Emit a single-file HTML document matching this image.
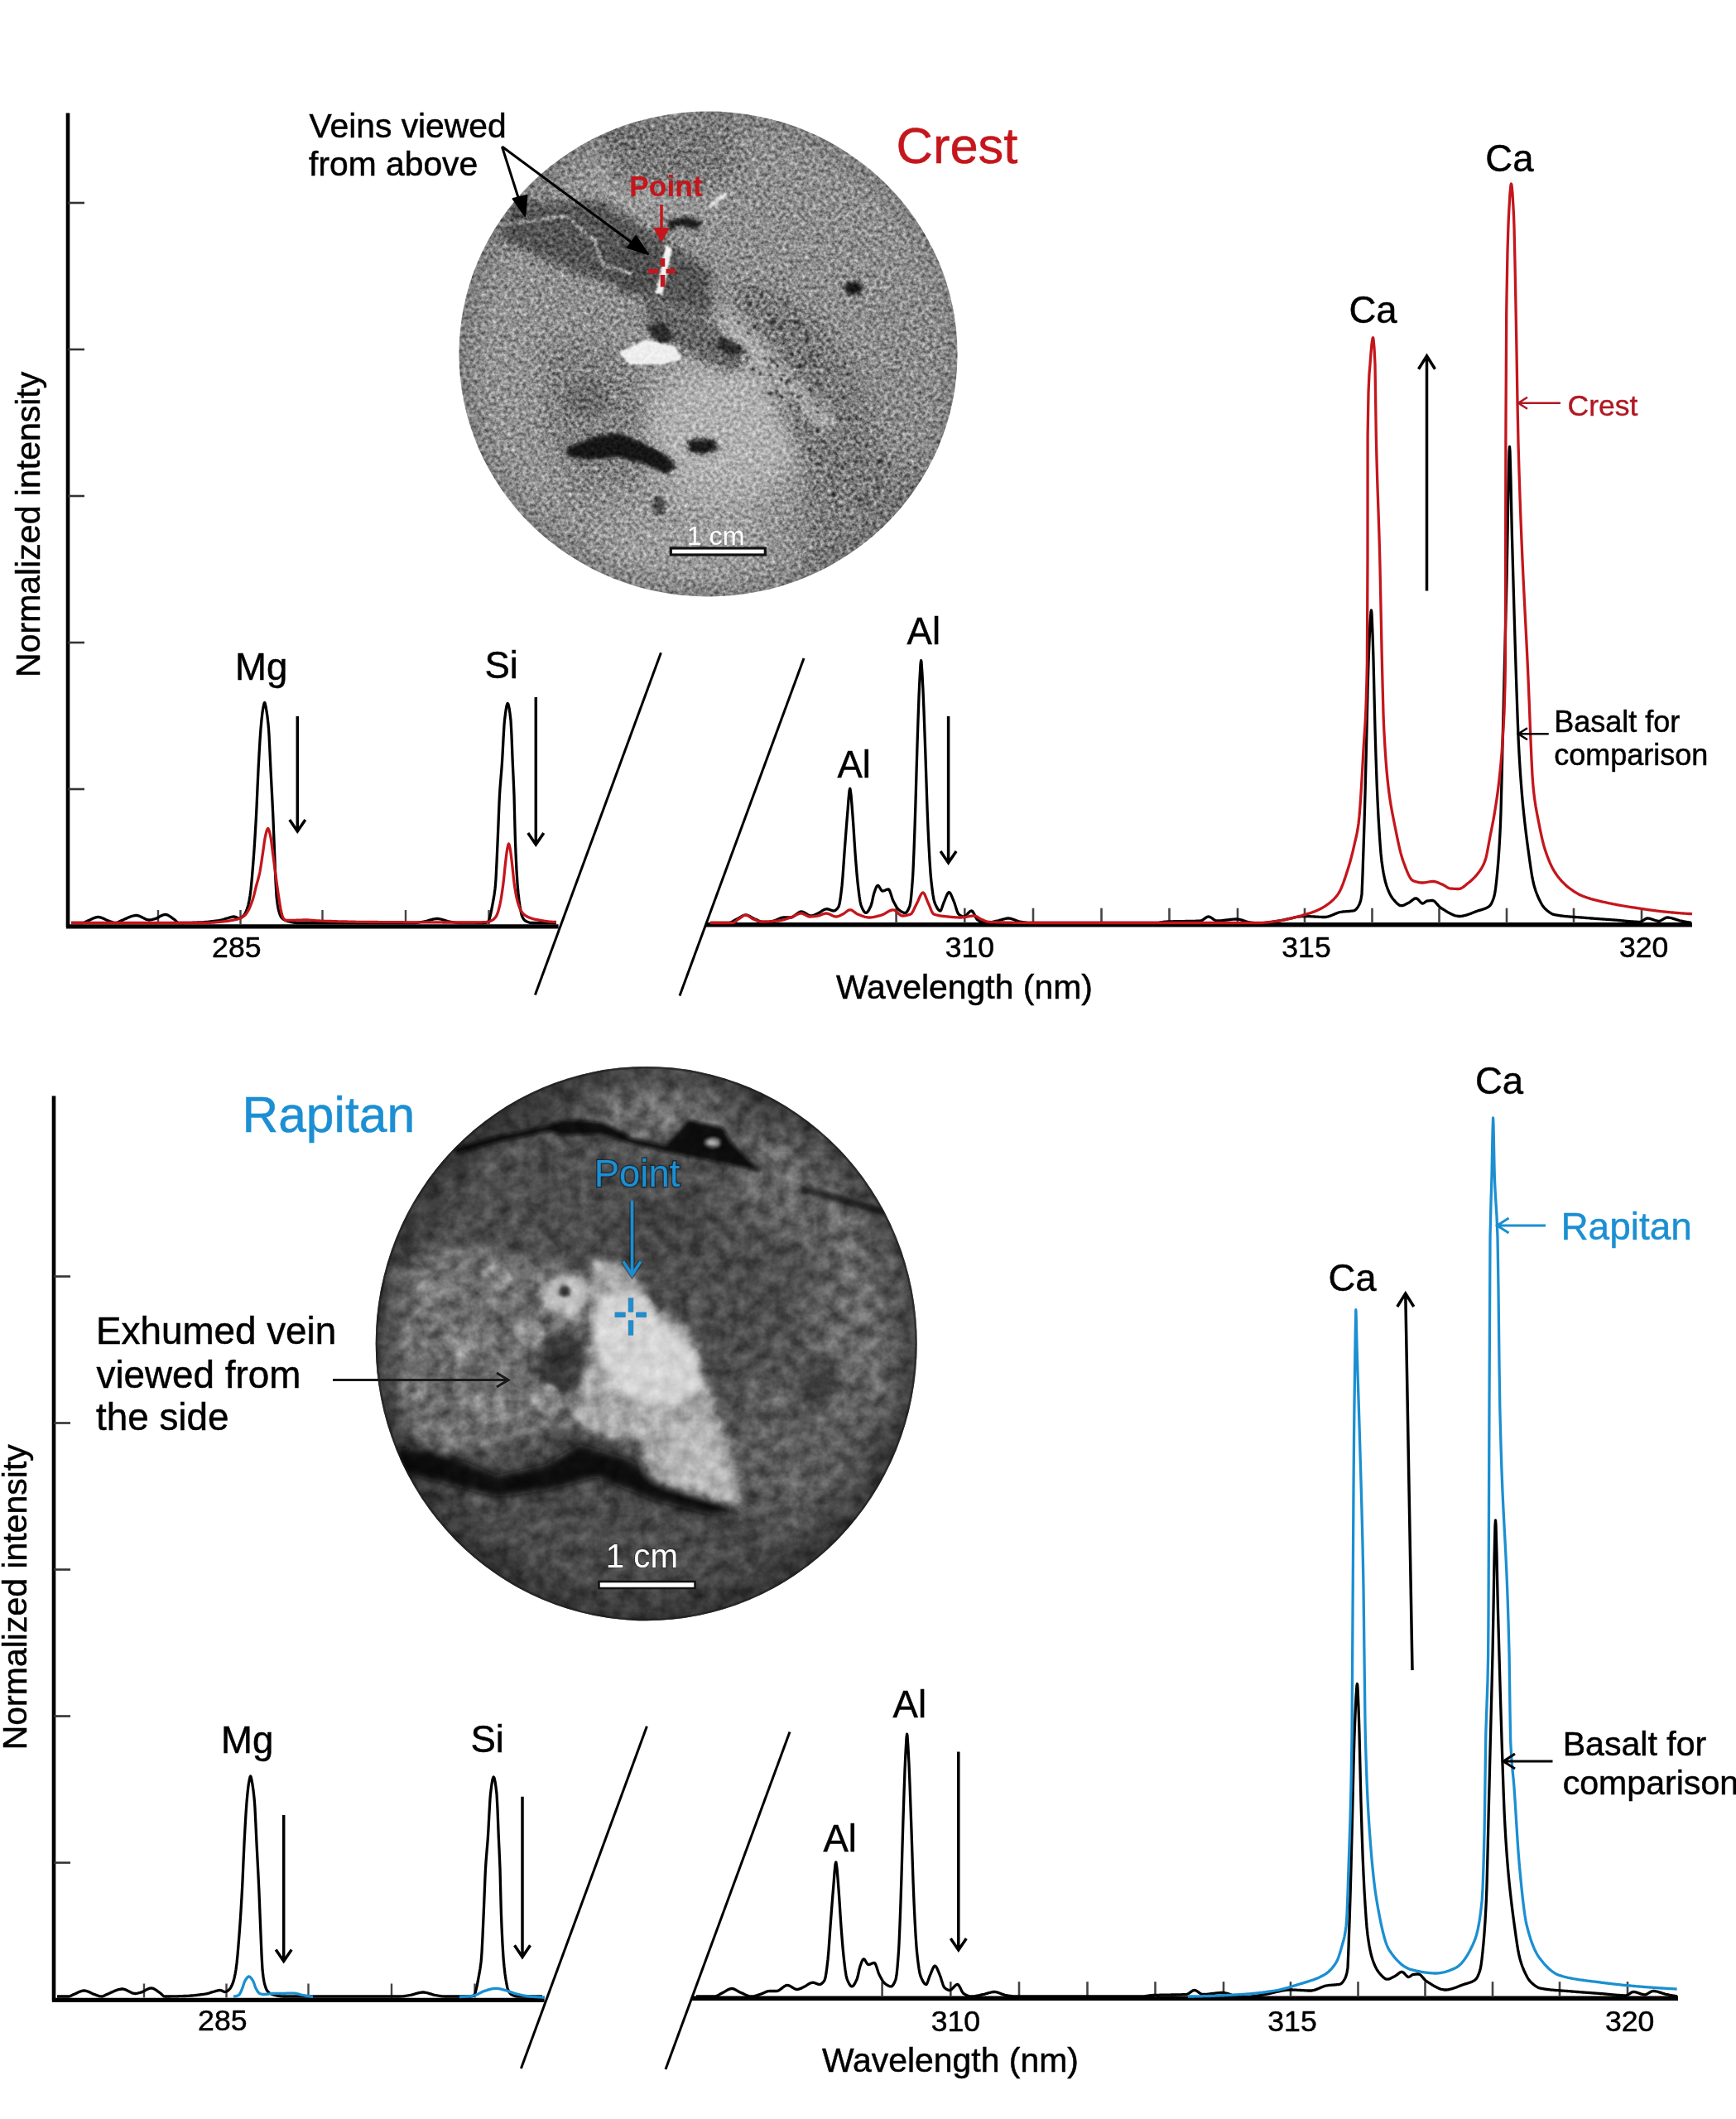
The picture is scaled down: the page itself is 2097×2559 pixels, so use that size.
<!DOCTYPE html>
<html><head><meta charset="utf-8"><style>
html,body{margin:0;padding:0;background:#fff;}
body{width:2097px;height:2559px;position:relative;overflow:hidden;}
</style></head><body>
<svg xmlns="http://www.w3.org/2000/svg" width="2097" height="2559" viewBox="0 0 2097 2559" style="position:absolute;left:0;top:0;will-change:transform">
<defs>
<clipPath id="clip1"><ellipse cx="855.5" cy="427.5" rx="301" ry="293"/></clipPath>
<clipPath id="clip2"><ellipse cx="780.7" cy="1622.6" rx="327" ry="334.6"/></clipPath>
<filter id="blur20" x="-50%" y="-50%" width="200%" height="200%"><feGaussianBlur stdDeviation="20"/></filter>
<filter id="blur10" x="-50%" y="-50%" width="200%" height="200%"><feGaussianBlur stdDeviation="10"/></filter>
<filter id="blur5" x="-50%" y="-50%" width="200%" height="200%"><feGaussianBlur stdDeviation="5"/></filter>
<filter id="blur2" x="-50%" y="-50%" width="200%" height="200%"><feGaussianBlur stdDeviation="2"/></filter>
<filter id="blur1" x="-50%" y="-50%" width="200%" height="200%"><feGaussianBlur stdDeviation="1"/></filter>
<filter id="tex1" x="0" y="0" width="100%" height="100%" color-interpolation-filters="sRGB">
  <feTurbulence type="fractalNoise" baseFrequency="0.22" numOctaves="3" seed="7" result="n"/>
  <feColorMatrix in="n" type="matrix" values="0.85 0 0 0 0.075  0.85 0 0 0 0.075  0.85 0 0 0 0.075  0 0 0 0 1" result="g"/>
  <feBlend in="g" in2="SourceGraphic" mode="overlay" result="b"/>
  <feComposite in="b" in2="SourceAlpha" operator="in"/>
</filter>
<filter id="tex2" x="0" y="0" width="100%" height="100%" color-interpolation-filters="sRGB">
  <feTurbulence type="fractalNoise" baseFrequency="0.06" numOctaves="4" seed="11" result="n"/>
  <feColorMatrix in="n" type="matrix" values="0.55 0 0 0 0.225  0.55 0 0 0 0.225  0.55 0 0 0 0.225  0 0 0 0 1" result="g"/>
  <feBlend in="g" in2="SourceGraphic" mode="overlay" result="b"/>
  <feComposite in="b" in2="SourceAlpha" operator="in"/>
</filter>
<radialGradient id="vig1" cx="0.5" cy="0.5" r="0.5">
  <stop offset="0.85" stop-color="#000" stop-opacity="0"/>
  <stop offset="1" stop-color="#000" stop-opacity="0.18"/>
</radialGradient>
<radialGradient id="vig2" cx="0.5" cy="0.5" r="0.5">
  <stop offset="0.82" stop-color="#000" stop-opacity="0"/>
  <stop offset="1" stop-color="#000" stop-opacity="0.4"/>
</radialGradient>
</defs>
<g font-family='"Liberation Sans", sans-serif'>
<g clip-path="url(#clip1)"><g filter="url(#tex1)">
<rect x="540" y="120" width="640" height="620" fill="#8e8e8e"/>
<g filter="url(#blur20)">
  <ellipse cx="620" cy="500" rx="60" ry="170" fill="#929292"/>
  <ellipse cx="875" cy="520" rx="100" ry="90" fill="#b0b0b0"/>
  <ellipse cx="830" cy="650" rx="110" ry="50" fill="#9c9c9c"/>
  <ellipse cx="1000" cy="250" rx="110" ry="80" fill="#8e8e8e"/>
  <ellipse cx="790" cy="200" rx="80" ry="60" fill="#9e9e9e"/>
  <ellipse cx="1100" cy="460" rx="50" ry="120" fill="#8a8a8a"/>
</g>
<g filter="url(#blur10)">
  <path d="M655 411 L740 420 L778 480 L770 587 L700 590 L655 520 Z" fill="#828282"/>
  <path d="M884 341 L936 348 L989 383 L1035 446 L1060 516 L1077 604 L1042 629 L989 587 L954 516 L919 446 L884 393 Z" fill="#7c7c7c"/>
  <path d="M972 552 L1112 560 L1112 692 L972 692 Z" fill="#7e7e7e"/>
  <path d="M866 372 L885 378 L940 440 L1010 512 L1000 525 L930 455 L870 392 Z" fill="#bababa"/>
  <path d="M720 150 L880 150 L900 200 L860 230 L740 220 Z" fill="#7a7a7a"/>
</g>
<g filter="url(#blur5)">
  <path d="M620 246 L726 242 L778 274 L859 327 L859 383 L761 351 L690 327 L603 288 Z" fill="#575757"/>
  <ellipse cx="765" cy="325" rx="28" ry="32" fill="#505050"/>
  <path d="M778 358 L860 390 L901 439 L880 450 L820 420 L775 380 Z" fill="#666"/>
  <ellipse cx="708" cy="481" rx="28" ry="24" fill="#6e6e6e"/>
</g>
<g filter="url(#blur2)">
  <path d="M683 541 L719 527 L747 523 L775 534 L803 548 L817 562 L806 573 L782 562 L747 552 L712 555 L687 552 Z" fill="#181818"/>
  <path d="M831 531 L862 530 L868 543 L850 549 L832 546 Z" fill="#1e1e1e"/>
  <ellipse cx="796" cy="611" rx="8" ry="12" fill="#4e4e4e"/>
  <ellipse cx="1031" cy="348" rx="11" ry="8" fill="#151515"/>
  <path d="M806 266 L830 262 L848 268 L842 278 L820 272 L808 280 Z" fill="#1c1c1c"/>
  <path d="M780 395 L800 388 L815 408 L798 418 Z" fill="#2a2a2a"/>
  <path d="M870 405 L900 420 L890 432 L865 420 Z" fill="#2e2e2e"/>
</g>
<g filter="url(#blur1)" opacity="0.85"><circle cx="1015.1" cy="504.1" r="2.3" fill="rgb(67,67,67)"/><circle cx="1006.2" cy="521.6" r="2.4" fill="rgb(69,69,69)"/><circle cx="1060.5" cy="588.7" r="2.5" fill="rgb(27,27,27)"/><circle cx="983.1" cy="435.3" r="1.7" fill="rgb(26,26,26)"/><circle cx="960.7" cy="526.9" r="1.5" fill="rgb(37,37,37)"/><circle cx="952.6" cy="387.9" r="1.7" fill="rgb(68,68,68)"/><circle cx="1004.4" cy="576.6" r="2.1" fill="rgb(28,28,28)"/><circle cx="951.4" cy="370.4" r="1.2" fill="rgb(69,69,69)"/><circle cx="965.4" cy="390.7" r="2.4" fill="rgb(38,38,38)"/><circle cx="930.9" cy="452.9" r="2.4" fill="rgb(60,60,60)"/><circle cx="961.0" cy="390.0" r="2.2" fill="rgb(44,44,44)"/><circle cx="938.9" cy="441.4" r="1.4" fill="rgb(29,29,29)"/><circle cx="931.4" cy="434.0" r="2.3" fill="rgb(57,57,57)"/><circle cx="911.9" cy="352.3" r="1.7" fill="rgb(39,39,39)"/><circle cx="944.4" cy="458.1" r="2.2" fill="rgb(31,31,31)"/><circle cx="990.1" cy="470.5" r="1.3" fill="rgb(21,21,21)"/><circle cx="1042.8" cy="604.1" r="1.8" fill="rgb(55,55,55)"/><circle cx="1017.5" cy="563.4" r="2.0" fill="rgb(20,20,20)"/><circle cx="985.7" cy="463.2" r="2.1" fill="rgb(32,32,32)"/><circle cx="902.8" cy="401.9" r="2.3" fill="rgb(49,49,49)"/><circle cx="945.8" cy="453.1" r="1.9" fill="rgb(69,69,69)"/><circle cx="979.8" cy="471.4" r="2.3" fill="rgb(43,43,43)"/><circle cx="1007.9" cy="597.2" r="2.5" fill="rgb(25,25,25)"/><circle cx="934.2" cy="411.5" r="1.7" fill="rgb(29,29,29)"/><circle cx="981.5" cy="424.6" r="2.0" fill="rgb(39,39,39)"/><circle cx="997.3" cy="540.8" r="2.3" fill="rgb(60,60,60)"/><circle cx="935.9" cy="388.1" r="2.6" fill="rgb(30,30,30)"/><circle cx="988.4" cy="560.1" r="2.0" fill="rgb(45,45,45)"/><circle cx="920.5" cy="356.4" r="1.7" fill="rgb(36,36,36)"/><circle cx="967.9" cy="477.7" r="1.3" fill="rgb(60,60,60)"/><circle cx="904.8" cy="368.5" r="2.4" fill="rgb(28,28,28)"/><circle cx="1061.1" cy="602.3" r="1.4" fill="rgb(70,70,70)"/><circle cx="945.0" cy="479.4" r="1.7" fill="rgb(23,23,23)"/><circle cx="1022.0" cy="581.0" r="1.8" fill="rgb(59,59,59)"/><circle cx="1066.8" cy="550.2" r="1.8" fill="rgb(51,51,51)"/><circle cx="998.5" cy="541.0" r="1.6" fill="rgb(50,50,50)"/><circle cx="942.0" cy="477.9" r="1.7" fill="rgb(54,54,54)"/><circle cx="1061.7" cy="593.9" r="1.9" fill="rgb(41,41,41)"/><circle cx="928.3" cy="405.4" r="1.9" fill="rgb(55,55,55)"/><circle cx="1029.9" cy="583.5" r="2.3" fill="rgb(69,69,69)"/><circle cx="962.5" cy="444.7" r="1.2" fill="rgb(39,39,39)"/><circle cx="971.2" cy="441.0" r="1.6" fill="rgb(51,51,51)"/><circle cx="973.2" cy="403.1" r="2.2" fill="rgb(41,41,41)"/><circle cx="1009.1" cy="518.6" r="1.2" fill="rgb(55,55,55)"/><circle cx="1012.7" cy="561.8" r="1.6" fill="rgb(38,38,38)"/><circle cx="1040.1" cy="557.1" r="2.3" fill="rgb(42,42,42)"/><circle cx="933.9" cy="435.9" r="2.5" fill="rgb(46,46,46)"/><circle cx="978.0" cy="431.1" r="2.4" fill="rgb(64,64,64)"/><circle cx="963.3" cy="479.0" r="1.7" fill="rgb(29,29,29)"/><circle cx="963.3" cy="508.4" r="2.4" fill="rgb(50,50,50)"/><circle cx="918.3" cy="450.9" r="2.1" fill="rgb(46,46,46)"/><circle cx="945.4" cy="389.5" r="2.0" fill="rgb(62,62,62)"/><circle cx="1037.2" cy="603.6" r="2.0" fill="rgb(60,60,60)"/><circle cx="975.1" cy="403.9" r="1.5" fill="rgb(57,57,57)"/><circle cx="980.2" cy="463.1" r="1.5" fill="rgb(63,63,63)"/><circle cx="942.9" cy="394.6" r="2.6" fill="rgb(34,34,34)"/><circle cx="951.6" cy="382.6" r="1.4" fill="rgb(31,31,31)"/><circle cx="980.3" cy="478.3" r="1.8" fill="rgb(42,42,42)"/><circle cx="968.0" cy="449.7" r="2.0" fill="rgb(35,35,35)"/><circle cx="1006.8" cy="545.6" r="1.7" fill="rgb(37,37,37)"/><circle cx="1060.4" cy="556.4" r="2.2" fill="rgb(55,55,55)"/><circle cx="930.1" cy="475.7" r="2.1" fill="rgb(26,26,26)"/><circle cx="948.1" cy="433.2" r="2.5" fill="rgb(38,38,38)"/><circle cx="1073.7" cy="584.3" r="1.8" fill="rgb(56,56,56)"/><circle cx="994.4" cy="526.8" r="1.4" fill="rgb(58,58,58)"/><circle cx="959.8" cy="456.8" r="1.5" fill="rgb(28,28,28)"/><circle cx="987.8" cy="519.3" r="2.5" fill="rgb(20,20,20)"/><circle cx="950.0" cy="463.8" r="2.5" fill="rgb(54,54,54)"/><circle cx="930.8" cy="389.0" r="2.4" fill="rgb(44,44,44)"/><circle cx="999.2" cy="444.4" r="1.9" fill="rgb(50,50,50)"/><circle cx="1047.9" cy="608.9" r="2.5" fill="rgb(30,30,30)"/><circle cx="980.0" cy="520.5" r="2.6" fill="rgb(51,51,51)"/><circle cx="909.4" cy="445.8" r="2.5" fill="rgb(39,39,39)"/><circle cx="965.0" cy="493.2" r="1.9" fill="rgb(27,27,27)"/><circle cx="1035.1" cy="502.9" r="1.5" fill="rgb(22,22,22)"/><circle cx="1046.0" cy="539.7" r="1.2" fill="rgb(54,54,54)"/><circle cx="973.2" cy="512.4" r="1.9" fill="rgb(22,22,22)"/><circle cx="924.4" cy="432.6" r="1.4" fill="rgb(38,38,38)"/><circle cx="953.8" cy="428.1" r="1.9" fill="rgb(61,61,61)"/><circle cx="1062.5" cy="557.6" r="2.5" fill="rgb(21,21,21)"/><circle cx="1008.9" cy="559.7" r="1.9" fill="rgb(41,41,41)"/><circle cx="1013.0" cy="502.3" r="1.2" fill="rgb(42,42,42)"/><circle cx="973.4" cy="438.5" r="2.0" fill="rgb(22,22,22)"/><circle cx="903.9" cy="358.2" r="2.2" fill="rgb(26,26,26)"/><circle cx="1045.0" cy="579.8" r="1.2" fill="rgb(69,69,69)"/><circle cx="1035.3" cy="557.3" r="2.2" fill="rgb(60,60,60)"/><circle cx="1026.8" cy="505.0" r="2.4" fill="rgb(50,50,50)"/><circle cx="985.2" cy="441.1" r="1.5" fill="rgb(38,38,38)"/><circle cx="990.9" cy="463.9" r="1.6" fill="rgb(20,20,20)"/><circle cx="1006.8" cy="536.9" r="1.6" fill="rgb(69,69,69)"/><circle cx="963.5" cy="487.2" r="1.4" fill="rgb(64,64,64)"/><circle cx="987.7" cy="497.4" r="1.7" fill="rgb(29,29,29)"/><circle cx="970.7" cy="464.4" r="1.3" fill="rgb(66,66,66)"/><circle cx="957.3" cy="402.2" r="2.3" fill="rgb(62,62,62)"/><circle cx="1040.1" cy="603.6" r="1.8" fill="rgb(24,24,24)"/><circle cx="1072.6" cy="599.9" r="1.3" fill="rgb(27,27,27)"/><circle cx="944.4" cy="407.8" r="2.5" fill="rgb(65,65,65)"/><circle cx="1074.8" cy="560.0" r="2.2" fill="rgb(48,48,48)"/><circle cx="931.0" cy="392.1" r="1.8" fill="rgb(30,30,30)"/><circle cx="892.4" cy="390.6" r="2.0" fill="rgb(62,62,62)"/><circle cx="933.3" cy="475.3" r="1.3" fill="rgb(56,56,56)"/><circle cx="912.4" cy="394.5" r="2.1" fill="rgb(20,20,20)"/><circle cx="957.2" cy="476.8" r="2.0" fill="rgb(51,51,51)"/><circle cx="966.5" cy="440.9" r="2.5" fill="rgb(28,28,28)"/><circle cx="989.2" cy="551.1" r="2.1" fill="rgb(52,52,52)"/><circle cx="974.7" cy="411.3" r="2.0" fill="rgb(34,34,34)"/><circle cx="945.4" cy="423.3" r="1.6" fill="rgb(68,68,68)"/><circle cx="975.8" cy="408.1" r="2.3" fill="rgb(43,43,43)"/><circle cx="965.4" cy="478.7" r="1.4" fill="rgb(21,21,21)"/><circle cx="978.3" cy="543.7" r="2.1" fill="rgb(25,25,25)"/><circle cx="1038.6" cy="575.5" r="1.8" fill="rgb(44,44,44)"/><circle cx="1039.1" cy="580.2" r="1.7" fill="rgb(70,70,70)"/><circle cx="987.6" cy="490.7" r="1.7" fill="rgb(29,29,29)"/><circle cx="1046.6" cy="599.5" r="2.3" fill="rgb(67,67,67)"/><circle cx="948.8" cy="366.3" r="2.1" fill="rgb(33,33,33)"/><circle cx="930.3" cy="389.0" r="1.7" fill="rgb(35,35,35)"/><circle cx="973.9" cy="411.8" r="2.2" fill="rgb(70,70,70)"/><circle cx="938.5" cy="473.9" r="2.4" fill="rgb(61,61,61)"/><circle cx="955.8" cy="427.7" r="2.5" fill="rgb(43,43,43)"/><circle cx="988.7" cy="484.9" r="2.0" fill="rgb(67,67,67)"/><circle cx="900.9" cy="426.1" r="1.3" fill="rgb(31,31,31)"/><circle cx="902.9" cy="432.7" r="2.4" fill="rgb(50,50,50)"/><circle cx="996.1" cy="532.6" r="1.8" fill="rgb(39,39,39)"/><circle cx="1050.0" cy="576.7" r="1.8" fill="rgb(49,49,49)"/><circle cx="954.2" cy="490.3" r="2.1" fill="rgb(24,24,24)"/><circle cx="952.6" cy="459.1" r="2.4" fill="rgb(29,29,29)"/><circle cx="963.4" cy="516.7" r="2.3" fill="rgb(68,68,68)"/><circle cx="929.0" cy="444.5" r="1.9" fill="rgb(22,22,22)"/><circle cx="971.2" cy="434.0" r="1.6" fill="rgb(23,23,23)"/><circle cx="1021.2" cy="523.6" r="1.9" fill="rgb(29,29,29)"/><circle cx="929.7" cy="381.4" r="1.6" fill="rgb(63,63,63)"/><circle cx="970.0" cy="396.3" r="1.2" fill="rgb(65,65,65)"/><circle cx="886.7" cy="379.2" r="1.3" fill="rgb(45,45,45)"/><circle cx="1059.1" cy="578.0" r="2.2" fill="rgb(31,31,31)"/><circle cx="961.0" cy="487.4" r="2.2" fill="rgb(65,65,65)"/><circle cx="992.5" cy="463.8" r="1.4" fill="rgb(33,33,33)"/><circle cx="1059.8" cy="588.1" r="1.8" fill="rgb(37,37,37)"/><circle cx="872.9" cy="382.6" r="2.3" fill="rgb(46,46,46)"/><circle cx="897.3" cy="424.8" r="2.4" fill="rgb(53,53,53)"/><circle cx="1018.6" cy="480.2" r="2.2" fill="rgb(35,35,35)"/></g>
<g filter="url(#blur1)">
  <path d="M604 270 L684 259 L720 289 L729 317 L764 329 L762 333 L726 320 L716 292 L684 263 L604 274 Z" fill="#a8a8a8" opacity="0.8"/>
  <path d="M804 296 L812 300 L806 330 L800 356 L792 354 L798 328 Z" fill="#f4f4f4"/>
  <path d="M748 426 L780 410 L815 418 L824 434 L800 440 L760 440 Z" fill="#eeeeee"/>
  <path d="M855 248 L876 232 L879 236 L858 252 Z" fill="#e0e0e0"/>
</g>
</g>
<rect x="540" y="120" width="640" height="620" fill="url(#vig1)"/>
</g>
<line x1="82" y1="136.5" x2="82" y2="1120" stroke="#000" stroke-width="4.6" />
<line x1="82" y1="245" x2="102" y2="245" stroke="#333" stroke-width="2.6" />
<line x1="82" y1="422" x2="102" y2="422" stroke="#333" stroke-width="2.6" />
<line x1="82" y1="599" x2="102" y2="599" stroke="#333" stroke-width="2.6" />
<line x1="82" y1="776" x2="102" y2="776" stroke="#333" stroke-width="2.6" />
<line x1="82" y1="953" x2="102" y2="953" stroke="#333" stroke-width="2.6" />
<line x1="80" y1="1118.8" x2="674.6" y2="1118.8" stroke="#000" stroke-width="5.3" />
<line x1="191" y1="1099" x2="191" y2="1116" stroke="#444" stroke-width="2.4" />
<line x1="290.5" y1="1099" x2="290.5" y2="1116" stroke="#444" stroke-width="2.4" />
<line x1="389.5" y1="1099" x2="389.5" y2="1116" stroke="#444" stroke-width="2.4" />
<line x1="490" y1="1099" x2="490" y2="1116" stroke="#444" stroke-width="2.4" />
<line x1="590.5" y1="1099" x2="590.5" y2="1116" stroke="#444" stroke-width="2.4" />
<line x1="853" y1="1116.8" x2="2044" y2="1116.8" stroke="#000" stroke-width="5.5" />
<line x1="1082.6" y1="1096.7" x2="1082.6" y2="1115" stroke="#444" stroke-width="2.6" />
<line x1="1165.3" y1="1096.7" x2="1165.3" y2="1115" stroke="#444" stroke-width="2.6" />
<line x1="1248" y1="1096.7" x2="1248" y2="1115" stroke="#444" stroke-width="2.6" />
<line x1="1330.5" y1="1096.7" x2="1330.5" y2="1115" stroke="#444" stroke-width="2.6" />
<line x1="1412.5" y1="1096.7" x2="1412.5" y2="1115" stroke="#444" stroke-width="2.6" />
<line x1="1495" y1="1096.7" x2="1495" y2="1115" stroke="#444" stroke-width="2.6" />
<line x1="1576" y1="1096.7" x2="1576" y2="1115" stroke="#444" stroke-width="2.6" />
<line x1="1657.5" y1="1096.7" x2="1657.5" y2="1115" stroke="#444" stroke-width="2.6" />
<line x1="1738.5" y1="1096.7" x2="1738.5" y2="1115" stroke="#444" stroke-width="2.6" />
<line x1="1820" y1="1096.7" x2="1820" y2="1115" stroke="#444" stroke-width="2.6" />
<line x1="1901" y1="1096.7" x2="1901" y2="1115" stroke="#444" stroke-width="2.6" />
<line x1="1983" y1="1096.7" x2="1983" y2="1115" stroke="#444" stroke-width="2.6" />
<line x1="798.4" y1="788.3" x2="646.4" y2="1201.6" stroke="#000" stroke-width="3" />
<line x1="971" y1="795" x2="821" y2="1202.4" stroke="#000" stroke-width="3" />
<text x="256.1" y="1155.8" font-size="35.6" text-anchor="start" fill="#000" font-weight="normal" stroke="#000" stroke-width="0.5">285</text>
<text x="1141.8" y="1156.2" font-size="35.6" text-anchor="start" fill="#000" font-weight="normal" stroke="#000" stroke-width="0.5">310</text>
<text x="1578" y="1156" font-size="35.6" text-anchor="middle" fill="#000" font-weight="normal" stroke="#000" stroke-width="0.5">315</text>
<text x="1985.6" y="1156" font-size="35.6" text-anchor="middle" fill="#000" font-weight="normal" stroke="#000" stroke-width="0.5">320</text>
<text x="1010" y="1205.7" font-size="40.9" text-anchor="start" fill="#000" font-weight="normal" stroke="#000" stroke-width="0.5">Wavelength (nm)</text>
<text x="284.1" y="820.7" font-size="45.5" text-anchor="start" fill="#000" font-weight="normal" stroke="#000" stroke-width="0.5">Mg</text>
<text x="585.4" y="819" font-size="45.5" text-anchor="start" fill="#000" font-weight="normal" stroke="#000" stroke-width="0.5">Si</text>
<text x="1011.4" y="939.3" font-size="45.5" text-anchor="start" fill="#000" font-weight="normal" stroke="#000" stroke-width="0.5">Al</text>
<text x="1095.6" y="777.7" font-size="45.5" text-anchor="start" fill="#000" font-weight="normal" stroke="#000" stroke-width="0.5">Al</text>
<text x="0" y="0" font-size="41" text-anchor="start" fill="#000" font-weight="normal" transform="translate(48.4 817.9) rotate(-90)" stroke="#000" stroke-width="0.5">Normalized intensity</text>
<path d="M86 1114.5 L87 1114.5 L88 1114.5 L89 1114.5 L90 1114.5 L91 1114.5 L92 1114.5 L93 1114.5 L94 1114.5 L95 1114.5 L96 1114.5 L97 1114.5 L98 1114.5 L99 1114.5 L100 1114.5 L101 1114.4 L102 1114 L103 1113.5 L104 1113 L105 1112.5 L106 1112 L107 1111.6 L108 1111.2 L109 1110.7 L110 1110.2 L111 1109.7 L112 1109.3 L113 1108.9 L114 1108.5 L115 1108.1 L116 1107.8 L117 1107.6 L118 1107.5 L118.7 1107.5 L119 1107.5 L120 1107.6 L121 1107.8 L122 1108.1 L123 1108.5 L124 1108.9 L125 1109.3 L126 1109.8 L127 1110.3 L128 1110.8 L129 1111.2 L130 1111.7 L131 1112 L132 1112.3 L133 1112.7 L134 1113.1 L135 1113.4 L136 1113.8 L137 1114.1 L138 1114.3 L139 1114.4 L140 1114.5 L141 1114.4 L142 1114 L143 1113.5 L144 1113 L145 1112.5 L146 1112 L147 1111.6 L148 1111.2 L149 1110.7 L150 1110.3 L151 1109.8 L152 1109.4 L153 1108.9 L154 1108.5 L155 1108 L156 1107.6 L157 1107.2 L158 1106.8 L159 1106.5 L160 1106.2 L161 1106 L162 1105.8 L163 1105.6 L164 1105.5 L164.8 1105.5 L165 1105.5 L166 1105.6 L167 1105.8 L168 1106.1 L169 1106.5 L170 1107 L171 1107.5 L172 1108 L173 1108.6 L174 1109.1 L175 1109.6 L176 1110.1 L177 1110.4 L178 1110.7 L179 1110.9 L180 1111 L181 1111 L182 1110.8 L183 1110.7 L184 1110.5 L185 1110.2 L186 1110 L187 1109.7 L188 1109.4 L189 1108.9 L190 1108.4 L191 1107.9 L192 1107.4 L193 1106.8 L194 1106.3 L195 1105.8 L196 1105.4 L197 1105 L198 1104.7 L199 1104.5 L199.8 1104.5 L200 1104.5 L201 1104.6 L202 1104.9 L203 1105.3 L204 1105.9 L205 1106.5 L206 1107.2 L207 1107.9 L208 1108.6 L209 1109.3 L210 1110 L211 1110.8 L212 1111.7 L213 1112.7 L214 1113.6 L215 1114.3 L216 1114.5 L217 1114.5 L218 1114.5 L219 1114.5 L220 1114.5 L221 1114.5 L222 1114.5 L223 1114.4 L224 1114.4 L225 1114.4 L226 1114.4 L227 1114.4 L228 1114.4 L229 1114.3 L230 1114.3 L231 1114.3 L232 1114.3 L233 1114.2 L234 1114.2 L235 1114.2 L236 1114.1 L237 1114.1 L238 1114.1 L239 1114 L240 1114 L241 1114 L242 1113.9 L243 1113.9 L244 1113.8 L245 1113.8 L246 1113.7 L247 1113.6 L248 1113.5 L249 1113.5 L250 1113.4 L251 1113.3 L252 1113.2 L253 1113.1 L254 1113 L255 1112.9 L256 1112.7 L257 1112.6 L258 1112.5 L259 1112.4 L260 1112.2 L261 1112.1 L262 1112 L263 1111.8 L264 1111.7 L265 1111.5 L266 1111.3 L267 1111.1 L268 1110.8 L269 1110.6 L270 1110.3 L271 1110 L272 1109.6 L273 1109.3 L274 1109 L275 1108.8 L276 1108.5 L277 1108.2 L278 1107.9 L279 1107.7 L280 1107.4 L281 1107.2 L282 1107 L282.8 1107 L283 1107 L284 1107.2 L285 1107.6 L286 1108 L287 1108.5 L288 1108.9 L289 1109 L290 1108.8 L291 1108.4 L292 1107.7 L293 1106.9 L294 1106 L295 1104.9 L296 1103.3 L297 1101.3 L298 1099 L299 1096.1 L300 1092.3 L301 1087.6 L302 1082 L303 1074.4 L304 1064.3 L305 1052.5 L306 1040 L307 1026.4 L308 1011.1 L309 994.1 L309.5 985 L310 974.9 L311 951.8 L312 930 L313 911.2 L314 894 L315 880 L316 869 L317 860.2 L317.5 857 L318 854.2 L319 849.5 L319.6 848.5 L320 849 L321 853.1 L321.7 857 L322 858.7 L323 865.5 L324 874.5 L324.5 880 L325 887.4 L326 908.1 L327 930 L328 949.2 L329 968.3 L329.8 985 L330 989.6 L331 1014.9 L332 1040 L333 1064.1 L334 1082 L335 1090.8 L336 1096.8 L336.5 1099 L337 1100.8 L338 1104 L339 1106.4 L340 1108 L341 1109 L342 1109.9 L343 1110.6 L344 1111.2 L345 1111.6 L346 1112 L347 1112.3 L348 1112.6 L349 1112.9 L350 1113.1 L351 1113.4 L352 1113.6 L353 1113.8 L354 1114 L355 1114.1 L356 1114.3 L357 1114.4 L358 1114.4 L359 1114.5 L360 1114.5 L361 1114.5 L362 1114.5 L363 1114.5 L364 1114.5 L365 1114.5 L366 1114.5 L367 1114.5 L368 1114.5 L369 1114.5 L370 1114.5 L371 1114.5 L372 1114.5 L373 1114.5 L374 1114.5 L375 1114.5 L376 1114.5 L377 1114.5 L378 1114.5 L379 1114.5 L380 1114.5 L381 1114.5 L382 1114.5 L383 1114.5 L384 1114.5 L385 1114.5 L386 1114.5 L387 1114.5 L388 1114.5 L389 1114.5 L390 1114.5 L391 1114.5 L392 1114.5 L393 1114.5 L394 1114.5 L395 1114.5 L396 1114.5 L397 1114.5 L398 1114.5 L399 1114.5 L400 1114.5 L401 1114.5 L402 1114.5 L403 1114.5 L404 1114.5 L405 1114.5 L406 1114.5 L407 1114.5 L408 1114.5 L409 1114.5 L410 1114.5 L411 1114.5 L412 1114.5 L413 1114.5 L414 1114.5 L415 1114.5 L416 1114.5 L417 1114.5 L418 1114.5 L419 1114.5 L420 1114.5 L421 1114.5 L422 1114.5 L423 1114.5 L424 1114.5 L425 1114.5 L426 1114.5 L427 1114.5 L428 1114.5 L429 1114.5 L430 1114.5 L431 1114.5 L432 1114.5 L433 1114.5 L434 1114.5 L435 1114.5 L436 1114.5 L437 1114.5 L438 1114.5 L439 1114.5 L440 1114.5 L441 1114.5 L442 1114.5 L443 1114.5 L444 1114.5 L445 1114.5 L446 1114.5 L447 1114.5 L448 1114.5 L449 1114.5 L450 1114.5 L451 1114.5 L452 1114.5 L453 1114.5 L454 1114.5 L455 1114.5 L456 1114.5 L457 1114.5 L458 1114.5 L459 1114.5 L460 1114.5 L461 1114.5 L462 1114.5 L463 1114.5 L464 1114.5 L465 1114.5 L466 1114.5 L467 1114.5 L468 1114.5 L469 1114.5 L470 1114.5 L471 1114.5 L472 1114.5 L473 1114.5 L474 1114.5 L475 1114.5 L476 1114.5 L477 1114.5 L478 1114.5 L479 1114.5 L480 1114.5 L481 1114.5 L482 1114.5 L483 1114.5 L484 1114.5 L485 1114.5 L486 1114.5 L487 1114.5 L488 1114.5 L489 1114.5 L490 1114.5 L491 1114.5 L492 1114.5 L493 1114.5 L494 1114.5 L495 1114.5 L496 1114.5 L497 1114.5 L498 1114.5 L499 1114.5 L500 1114.5 L501 1114.5 L502 1114.4 L503 1114.4 L504 1114.3 L505 1114.1 L506 1114 L507 1113.8 L508 1113.7 L509 1113.5 L510 1113.3 L511 1113.2 L512 1113 L513 1112.8 L514 1112.6 L515 1112.4 L516 1112.1 L517 1111.8 L518 1111.5 L519 1111.2 L520 1110.9 L521 1110.7 L522 1110.4 L523 1110.1 L524 1109.9 L525 1109.8 L526 1109.6 L527 1109.5 L528 1109.5 L529 1109.5 L530 1109.6 L531 1109.8 L532 1110 L533 1110.2 L534 1110.5 L535 1110.8 L536 1111.1 L537 1111.4 L538 1111.7 L539 1112 L540 1112.3 L541 1112.6 L542 1112.8 L543 1113 L544 1113.2 L545 1113.3 L546 1113.5 L547 1113.7 L548 1113.8 L549 1114 L550 1114.1 L551 1114.3 L552 1114.4 L553 1114.4 L554 1114.5 L555 1114.5 L556 1114.5 L557 1114.5 L558 1114.5 L559 1114.5 L560 1114.5 L561 1114.5 L562 1114.5 L563 1114.5 L564 1114.5 L565 1114.5 L566 1114.5 L567 1114.5 L568 1114.5 L569 1114.5 L570 1114.5 L571 1114.5 L572 1114.5 L573 1114.5 L574 1114.5 L575 1114.5 L576 1114.5 L577 1114.5 L578 1114.5 L579 1114.5 L580 1114.5 L581 1114.5 L582 1114.5 L583 1114.5 L584 1114.5 L585 1114.5 L586 1114.4 L587 1114.3 L588 1114 L589 1113.6 L590 1113 L591 1110.6 L592 1106.5 L593 1102.3 L594 1097.4 L595 1092 L596 1086.6 L597 1080.8 L598 1073.4 L598.4 1069.6 L599 1061.5 L600 1041.6 L601 1018.7 L601.2 1014.3 L602 994.9 L603 970 L603.5 960 L604 952.2 L605 939.6 L606 927.5 L606.4 922 L607 912 L608 892.6 L609 875.6 L609.5 870 L610 865.8 L611 858.1 L612 852.3 L613 849.5 L613.2 849.4 L614 850.5 L615 854.8 L616 861.5 L617 870 L618 888.4 L619 914.8 L619.3 922 L620 936.6 L621 960 L622 1000.3 L622.4 1014.3 L623 1029.7 L624 1051.1 L625 1067.1 L625.2 1069.6 L626 1078.4 L627 1087.2 L628 1094 L629 1099.7 L630 1104.4 L630.7 1106.5 L631 1107.2 L632 1109.1 L633 1110.6 L634 1111.6 L634.5 1112 L635 1112.3 L636 1112.8 L637 1113.3 L638 1113.7 L639 1114 L640 1114.3 L641 1114.4 L642 1114.5 L643 1114.5 L644 1114.5 L645 1114.5 L646 1114.5 L647 1114.5 L648 1114.5 L649 1114.5 L650 1114.5 L651 1114.5 L652 1114.5 L653 1114.5 L654 1114.5 L655 1114.5 L656 1114.5 L657 1114.5 L658 1114.5 L659 1114.5 L660 1114.5 L661 1114.5 L662 1114.5 L663 1114.5 L664 1114.5 L665 1114.5 L666 1114.5 L667 1114.5 L668 1114.5 L669 1114.5 L670 1114.5 L671 1114.5 L672 1114.5" fill="none" stroke="#000" stroke-width="3.3" stroke-linejoin="round"/>
<path d="M86 1114.5 L87 1114.5 L88 1114.5 L89 1114.5 L90 1114.5 L91 1114.5 L92 1114.5 L93 1114.5 L94 1114.5 L95 1114.5 L96 1114.5 L97 1114.5 L98 1114.5 L99 1114.5 L100 1114.5 L101 1114.5 L102 1114.5 L103 1114.5 L104 1114.5 L105 1114.5 L106 1114.5 L107 1114.5 L108 1114.5 L109 1114.5 L110 1114.5 L111 1114.5 L112 1114.5 L113 1114.5 L114 1114.5 L115 1114.5 L116 1114.5 L117 1114.5 L118 1114.5 L119 1114.5 L120 1114.5 L121 1114.5 L122 1114.5 L123 1114.5 L124 1114.5 L125 1114.5 L126 1114.5 L127 1114.5 L128 1114.5 L129 1114.5 L130 1114.5 L131 1114.5 L132 1114.5 L133 1114.5 L134 1114.5 L135 1114.5 L136 1114.5 L137 1114.5 L138 1114.5 L139 1114.5 L140 1114.5 L141 1114.5 L142 1114.5 L143 1114.5 L144 1114.5 L145 1114.5 L146 1114.5 L147 1114.5 L148 1114.5 L149 1114.5 L150 1114.5 L151 1114.5 L152 1114.5 L153 1114.5 L154 1114.5 L155 1114.5 L156 1114.5 L157 1114.5 L158 1114.5 L159 1114.5 L160 1114.5 L161 1114.5 L162 1114.5 L163 1114.5 L164 1114.5 L165 1114.5 L166 1114.5 L167 1114.5 L168 1114.5 L169 1114.5 L170 1114.5 L171 1114.5 L172 1114.5 L173 1114.5 L174 1114.5 L175 1114.5 L176 1114.5 L177 1114.5 L178 1114.5 L179 1114.5 L180 1114.5 L181 1114.5 L182 1114.5 L183 1114.5 L184 1114.5 L185 1114.5 L186 1114.5 L187 1114.5 L188 1114.5 L189 1114.5 L190 1114.5 L191 1114.5 L192 1114.5 L193 1114.5 L194 1114.5 L195 1114.5 L196 1114.5 L197 1114.5 L198 1114.5 L199 1114.5 L200 1114.5 L201 1114.5 L202 1114.5 L203 1114.5 L204 1114.5 L205 1114.5 L206 1114.5 L207 1114.5 L208 1114.5 L209 1114.5 L210 1114.5 L211 1114.5 L212 1114.5 L213 1114.5 L214 1114.5 L215 1114.5 L216 1114.5 L217 1114.5 L218 1114.5 L219 1114.5 L220 1114.5 L221 1114.5 L222 1114.5 L223 1114.5 L224 1114.5 L225 1114.5 L226 1114.5 L227 1114.5 L228 1114.5 L229 1114.5 L230 1114.5 L231 1114.5 L232 1114.5 L233 1114.5 L234 1114.5 L235 1114.5 L236 1114.5 L237 1114.5 L238 1114.5 L239 1114.5 L240 1114.5 L241 1114.5 L242 1114.5 L243 1114.5 L244 1114.5 L245 1114.5 L246 1114.5 L247 1114.5 L248 1114.5 L249 1114.5 L250 1114.5 L251 1114.5 L252 1114.5 L253 1114.4 L254 1114.4 L255 1114.3 L256 1114.2 L257 1114.2 L258 1114.1 L259 1114 L260 1113.9 L261 1113.8 L262 1113.7 L263 1113.6 L264 1113.5 L265 1113.4 L266 1113.3 L267 1113.2 L268 1113.1 L269 1113 L270 1112.9 L271 1112.8 L272 1112.7 L273 1112.5 L274 1112.4 L275 1112.3 L276 1112.1 L277 1112 L278 1111.8 L279 1111.7 L280 1111.5 L281 1111.3 L282 1111.1 L283 1110.9 L284 1110.7 L285 1110.5 L286 1110.3 L287 1110 L288 1109.7 L289 1109.4 L290 1109 L291 1108.6 L292 1108 L293 1107.4 L294 1106.7 L295 1105.9 L296 1105 L297 1104 L298 1102.7 L299 1101.1 L300 1099.2 L301 1097.2 L302 1095 L303 1092.7 L304 1090 L305 1087.1 L306 1084 L307 1080.4 L308 1076.2 L309 1072 L309.5 1070 L310 1068.1 L311 1064.6 L312 1061 L313 1057.1 L313.7 1054 L314 1052.5 L315 1046.7 L316 1040.1 L317 1033.3 L317.5 1030 L318 1026.6 L319 1019.1 L320 1012.5 L320.5 1010 L321 1007.9 L322 1003.9 L323 1001.2 L323.7 1000.5 L324 1000.6 L325 1002.7 L326 1006.5 L326.8 1010 L327 1011 L328 1017.7 L329 1026 L329.5 1030 L330 1033.8 L331 1041.6 L332 1049.4 L333 1057 L334 1064.4 L335 1071.7 L336 1078.7 L336.5 1082 L337 1085.3 L338 1091.8 L339 1097.6 L339.5 1100 L340 1102.2 L341 1106.1 L342 1108.5 L343 1109.7 L344 1110.6 L345 1111.3 L346 1111.5 L347 1111.5 L348 1111.5 L349 1111.5 L350 1111.5 L351 1111.4 L352 1111.4 L353 1111.4 L354 1111.4 L355 1111.3 L356 1111.3 L357 1111.3 L358 1111.2 L359 1111.2 L360 1111.2 L361 1111.2 L362 1111.1 L363 1111.1 L364 1111.1 L365 1111.1 L366 1111 L367 1111 L368 1111 L369 1111 L370 1111 L371 1111 L372 1111 L373 1111.1 L374 1111.1 L375 1111.2 L376 1111.3 L377 1111.4 L378 1111.5 L379 1111.6 L380 1111.7 L381 1111.7 L382 1111.8 L383 1111.9 L384 1112 L385 1112 L386 1112 L387 1112.1 L388 1112.1 L389 1112.1 L390 1112.2 L391 1112.2 L392 1112.3 L393 1112.3 L394 1112.3 L395 1112.4 L396 1112.4 L397 1112.4 L398 1112.5 L399 1112.5 L400 1112.5 L401 1112.6 L402 1112.6 L403 1112.6 L404 1112.6 L405 1112.7 L406 1112.7 L407 1112.7 L408 1112.8 L409 1112.8 L410 1112.8 L411 1112.8 L412 1112.9 L413 1112.9 L414 1112.9 L415 1112.9 L416 1113 L417 1113 L418 1113 L419 1113 L420 1113.1 L421 1113.1 L422 1113.1 L423 1113.1 L424 1113.1 L425 1113.2 L426 1113.2 L427 1113.2 L428 1113.2 L429 1113.2 L430 1113.3 L431 1113.3 L432 1113.3 L433 1113.3 L434 1113.3 L435 1113.3 L436 1113.3 L437 1113.4 L438 1113.4 L439 1113.4 L440 1113.4 L441 1113.4 L442 1113.4 L443 1113.4 L444 1113.4 L445 1113.5 L446 1113.5 L447 1113.5 L448 1113.5 L449 1113.5 L450 1113.5 L451 1113.5 L452 1113.5 L453 1113.5 L454 1113.5 L455 1113.5 L456 1113.5 L457 1113.6 L458 1113.6 L459 1113.6 L460 1113.6 L461 1113.6 L462 1113.6 L463 1113.6 L464 1113.6 L465 1113.6 L466 1113.6 L467 1113.6 L468 1113.6 L469 1113.6 L470 1113.6 L471 1113.6 L472 1113.7 L473 1113.7 L474 1113.7 L475 1113.7 L476 1113.7 L477 1113.7 L478 1113.7 L479 1113.7 L480 1113.7 L481 1113.7 L482 1113.7 L483 1113.7 L484 1113.7 L485 1113.7 L486 1113.7 L487 1113.7 L488 1113.8 L489 1113.8 L490 1113.8 L491 1113.8 L492 1113.8 L493 1113.8 L494 1113.8 L495 1113.8 L496 1113.8 L497 1113.8 L498 1113.8 L499 1113.8 L500 1113.8 L501 1113.8 L502 1113.8 L503 1113.8 L504 1113.8 L505 1113.8 L506 1113.8 L507 1113.9 L508 1113.9 L509 1113.9 L510 1113.9 L511 1113.9 L512 1113.9 L513 1113.9 L514 1113.9 L515 1113.9 L516 1113.9 L517 1113.9 L518 1113.9 L519 1113.9 L520 1113.9 L521 1113.9 L522 1113.9 L523 1113.9 L524 1113.9 L525 1113.9 L526 1113.9 L527 1113.9 L528 1113.9 L529 1113.9 L530 1113.9 L531 1113.9 L532 1113.9 L533 1113.9 L534 1113.9 L535 1114 L536 1114 L537 1114 L538 1114 L539 1114 L540 1114 L541 1114 L542 1114 L543 1114 L544 1114 L545 1114 L546 1114 L547 1114 L548 1114 L549 1114 L550 1114 L551 1114 L552 1114 L553 1114 L554 1114 L555 1114 L556 1114 L557 1114 L558 1114 L559 1114 L560 1114 L561 1114 L562 1114 L563 1114 L564 1114 L565 1114 L566 1114 L567 1114 L568 1114 L569 1114 L570 1114 L571 1114 L572 1114 L573 1114 L574 1114 L575 1114 L576 1113.9 L577 1113.9 L578 1113.9 L579 1113.9 L580 1113.9 L581 1113.8 L582 1113.8 L583 1113.7 L584 1113.7 L585 1113.7 L586 1113.6 L587 1113.6 L588 1113.5 L589 1113.4 L590 1113.2 L591 1112.9 L592 1112.5 L593 1112 L594 1111.5 L595 1111 L596 1110.4 L597 1109.5 L598 1108.4 L599 1107.1 L599.4 1106.5 L600 1105.4 L601 1102.9 L602 1099.7 L603 1096 L603.5 1094 L604 1091.8 L605 1086.7 L606 1080.7 L607 1073.9 L607.6 1069.6 L608 1066.4 L609 1057.2 L610 1047.2 L610.8 1040 L611 1038.3 L612 1030.1 L612.8 1025 L613 1024 L614 1019.8 L614.5 1019 L615 1019.8 L616 1024 L616.2 1025 L617 1030.1 L618 1038.4 L618.2 1040 L619 1047.1 L620 1056.9 L621 1065.9 L621.5 1069.6 L622 1072.8 L623 1078.7 L624 1083.9 L625 1088.2 L625.5 1090 L626 1091.6 L627 1094.6 L628 1097.2 L629 1099.4 L630 1101 L631 1102.3 L632 1103.4 L633 1104.4 L634 1105.2 L635 1105.9 L636 1106.5 L637 1107 L638 1107.5 L639 1107.9 L640 1108.3 L641 1108.6 L642 1109 L643 1109.3 L644 1109.6 L645 1109.8 L646 1110.1 L647 1110.3 L648 1110.5 L649 1110.7 L650 1110.9 L651 1111.1 L652 1111.3 L653 1111.4 L654 1111.6 L655 1111.8 L656 1112 L657 1112.1 L658 1112.3 L659 1112.4 L660 1112.6 L661 1112.7 L662 1112.8 L663 1113 L664 1113.1 L665 1113.2 L666 1113.2 L667 1113.3 L668 1113.4 L669 1113.4 L670 1113.5 L671 1113.5 L672 1113.5" fill="none" stroke="#c4161c" stroke-width="3.3" stroke-linejoin="round"/>
<path d="M858 1114.5 L859 1114.5 L860 1114.5 L861 1114.5 L862 1114.5 L863 1114.5 L864 1114.5 L865 1114.5 L866 1114.5 L867 1114.5 L868 1114.5 L869 1114.5 L870 1114.5 L871 1114.5 L872 1114.5 L873 1114.5 L874 1114.5 L875 1114.5 L876 1114.5 L877 1114.5 L878 1114.5 L879 1114.5 L880 1114.5 L881 1114.4 L882 1114.2 L883 1113.8 L884 1113.4 L885 1112.8 L886 1112.2 L887 1111.6 L888 1111.1 L889 1110.5 L890 1110 L891 1109.5 L892 1108.9 L893 1108.3 L894 1107.7 L895 1107.1 L896 1106.5 L897 1106 L898 1105.6 L899 1105.3 L900 1105.1 L900.8 1105 L901 1105 L902 1105.1 L903 1105.4 L904 1105.7 L905 1106.2 L906 1106.7 L907 1107.3 L908 1107.9 L909 1108.5 L910 1109.1 L911 1109.6 L912 1110 L913 1110.4 L914 1110.8 L915 1111.3 L916 1111.8 L917 1112.2 L918 1112.7 L919 1113.1 L920 1113.5 L921 1113.8 L922 1114.1 L923 1114.3 L924 1114.5 L925 1114.5 L926 1114.5 L927 1114.3 L928 1114.1 L929 1113.9 L930 1113.6 L931 1113.3 L932 1113 L933 1112.6 L934 1112.3 L935 1112 L936 1111.7 L937 1111.3 L938 1110.9 L939 1110.4 L940 1110 L941 1109.5 L942 1109.1 L943 1108.7 L944 1108.4 L945 1108.2 L946 1108 L946.8 1108 L947 1108 L948 1108 L949 1108 L950 1108 L951 1108 L952 1108 L953 1108 L954 1108 L955 1108 L956 1107.9 L957 1107.6 L958 1107.1 L959 1106.4 L960 1105.7 L961 1104.9 L962 1104.1 L963 1103.3 L964 1102.6 L965 1101.9 L966 1101.4 L967 1101.1 L968 1101 L969 1101.1 L970 1101.4 L971 1101.8 L972 1102.3 L973 1102.9 L974 1103.5 L975 1104.1 L976 1104.7 L977 1105.2 L978 1105.6 L979 1105.9 L980 1106 L981 1105.9 L982 1105.7 L983 1105.3 L984 1104.9 L985 1104.4 L986 1103.9 L987 1103.5 L988 1103 L989 1102.5 L990 1102 L991 1101.3 L992 1100.7 L993 1100 L994 1099.4 L995 1098.8 L996 1098.4 L997 1098 L998 1097.8 L998.8 1097.7 L999 1097.7 L1000 1097.8 L1001 1098.1 L1002 1098.5 L1003 1098.9 L1004 1099.3 L1005 1099.7 L1006 1099.9 L1007 1100 L1008 1099.8 L1009 1099.4 L1010 1098.7 L1011 1097.7 L1012 1096.4 L1013 1095 L1014 1091.8 L1015 1086.1 L1016 1078.5 L1017 1070 L1018 1058.7 L1019 1044.3 L1020 1030 L1021 1016.7 L1022 1003.5 L1023 990.9 L1023.5 985 L1024 978.8 L1025 965.4 L1026 955 L1026.7 952.4 L1027 952.9 L1028 959.9 L1029 972 L1030 985 L1031 999.1 L1032 1015.2 L1033 1030 L1034 1042.9 L1035 1055 L1036 1065.5 L1036.5 1070 L1037 1074.2 L1038 1082.2 L1039 1088.8 L1040 1093 L1041 1095.6 L1042 1097.8 L1043 1099.7 L1044 1101.2 L1045 1102.1 L1046 1102.4 L1047 1102.1 L1048 1101.2 L1049 1099.8 L1050 1098.1 L1051 1096.1 L1052 1094 L1053 1090.8 L1054 1086.3 L1055 1081.6 L1056 1078 L1057 1075.2 L1058 1072.5 L1059 1070.4 L1060 1069.3 L1060.2 1069.3 L1061 1069.6 L1062 1070.8 L1063 1072.5 L1064 1074.2 L1065 1075.5 L1066 1076 L1067 1075.9 L1068 1075.6 L1069 1075.2 L1070 1074.8 L1071 1074.4 L1072 1074.1 L1073 1074 L1073.2 1074 L1074 1074.5 L1075 1076.5 L1076 1079.3 L1077 1082.5 L1078 1085.6 L1079 1088 L1080 1089.9 L1081 1091.8 L1082 1093.7 L1083 1095.4 L1084 1096.9 L1085 1098.1 L1086 1099 L1087 1099.7 L1088 1100.4 L1089 1101 L1090 1101.5 L1091 1102 L1092 1102.3 L1093 1102.4 L1093.3 1102.4 L1094 1102.3 L1095 1101.6 L1096 1100.4 L1097 1098.7 L1098 1096.5 L1099 1094 L1100 1088.8 L1101 1079.3 L1102 1066.9 L1102.5 1060 L1103 1051.4 L1104 1027.7 L1105 1000 L1106 968.5 L1107 933.2 L1108 900 L1109 869.2 L1110 841.2 L1110.5 830 L1111 819.7 L1112 801.7 L1112.6 797.7 L1113 799.4 L1114 814.3 L1114.8 830 L1115 833.9 L1116 858 L1117 886.1 L1117.5 900 L1118 914.2 L1119 944.8 L1120 974.8 L1121 1000 L1122 1020.8 L1123 1039.5 L1124 1054.4 L1124.5 1060 L1125 1064.8 L1126 1073.5 L1127 1080.8 L1128 1086.4 L1129 1090 L1130 1092.4 L1131 1094.6 L1132 1096.5 L1133 1098 L1134 1099.2 L1135 1099.8 L1135.8 1100 L1136 1100 L1137 1098.5 L1138 1095.8 L1139 1092.7 L1140 1090 L1141 1087.7 L1142 1085.1 L1143 1082.6 L1144 1080.3 L1145 1078.6 L1146 1077.7 L1146.4 1077.6 L1147 1077.8 L1148 1078.9 L1149 1080.8 L1150 1083.2 L1151 1085.6 L1152 1088 L1153 1090.6 L1154 1093.7 L1155 1097 L1156 1100.1 L1157 1102.5 L1158 1104 L1159 1104.8 L1160 1105.5 L1161 1106.1 L1162 1106.6 L1163 1106.9 L1164 1107 L1165 1106.8 L1166 1106.2 L1167 1105.4 L1168 1104.4 L1169 1103.3 L1170 1102.2 L1171 1101.3 L1172 1100.5 L1173 1100.1 L1173.6 1100 L1174 1100.1 L1175 1100.9 L1176 1102.4 L1177 1104.3 L1178 1106.4 L1179 1108.4 L1180 1110 L1181 1111 L1182 1111.6 L1183 1112.2 L1184 1112.7 L1185 1113.2 L1186 1113.7 L1187 1114 L1188 1114.3 L1189 1114.4 L1190 1114.5 L1191 1114.5 L1192 1114.4 L1193 1114.3 L1194 1114.2 L1195 1114.1 L1196 1113.9 L1197 1113.7 L1198 1113.5 L1199 1113.3 L1200 1113.1 L1201 1112.9 L1202 1112.6 L1203 1112.4 L1204 1112.2 L1205 1112 L1206 1111.8 L1207 1111.5 L1208 1111.2 L1209 1111 L1210 1110.6 L1211 1110.3 L1212 1110 L1213 1109.8 L1214 1109.5 L1215 1109.3 L1216 1109.1 L1217 1109 L1218 1109 L1219 1109 L1220 1109.2 L1221 1109.4 L1222 1109.7 L1223 1110 L1224 1110.3 L1225 1110.7 L1226 1111.1 L1227 1111.5 L1228 1111.9 L1229 1112.2 L1230 1112.5 L1231 1112.8 L1232 1113 L1233 1113.2 L1234 1113.3 L1235 1113.5 L1236 1113.7 L1237 1113.8 L1238 1113.9 L1239 1114.1 L1240 1114.2 L1241 1114.3 L1242 1114.4 L1243 1114.4 L1244 1114.5 L1245 1114.5 L1246 1114.5 L1247 1114.5 L1248 1114.5 L1249 1114.5 L1250 1114.5 L1251 1114.5 L1252 1114.5 L1253 1114.5 L1254 1114.5 L1255 1114.5 L1256 1114.5 L1257 1114.5 L1258 1114.5 L1259 1114.5 L1260 1114.5 L1261 1114.5 L1262 1114.5 L1263 1114.5 L1264 1114.5 L1265 1114.5 L1266 1114.5 L1267 1114.5 L1268 1114.5 L1269 1114.5 L1270 1114.5 L1271 1114.5 L1272 1114.5 L1273 1114.5 L1274 1114.5 L1275 1114.5 L1276 1114.5 L1277 1114.5 L1278 1114.5 L1279 1114.5 L1280 1114.5 L1281 1114.5 L1282 1114.5 L1283 1114.5 L1284 1114.5 L1285 1114.5 L1286 1114.5 L1287 1114.5 L1288 1114.5 L1289 1114.5 L1290 1114.5 L1291 1114.5 L1292 1114.5 L1293 1114.5 L1294 1114.5 L1295 1114.5 L1296 1114.5 L1297 1114.5 L1298 1114.5 L1299 1114.5 L1300 1114.5 L1301 1114.5 L1302 1114.5 L1303 1114.5 L1304 1114.5 L1305 1114.5 L1306 1114.5 L1307 1114.5 L1308 1114.5 L1309 1114.5 L1310 1114.5 L1311 1114.5 L1312 1114.5 L1313 1114.5 L1314 1114.5 L1315 1114.5 L1316 1114.5 L1317 1114.5 L1318 1114.5 L1319 1114.5 L1320 1114.5 L1321 1114.5 L1322 1114.5 L1323 1114.5 L1324 1114.5 L1325 1114.5 L1326 1114.5 L1327 1114.5 L1328 1114.5 L1329 1114.5 L1330 1114.5 L1331 1114.5 L1332 1114.5 L1333 1114.5 L1334 1114.5 L1335 1114.5 L1336 1114.5 L1337 1114.5 L1338 1114.5 L1339 1114.5 L1340 1114.5 L1341 1114.5 L1342 1114.5 L1343 1114.5 L1344 1114.5 L1345 1114.5 L1346 1114.5 L1347 1114.5 L1348 1114.5 L1349 1114.5 L1350 1114.5 L1351 1114.5 L1352 1114.5 L1353 1114.5 L1354 1114.5 L1355 1114.5 L1356 1114.5 L1357 1114.5 L1358 1114.5 L1359 1114.5 L1360 1114.5 L1361 1114.5 L1362 1114.5 L1363 1114.5 L1364 1114.5 L1365 1114.5 L1366 1114.5 L1367 1114.5 L1368 1114.5 L1369 1114.5 L1370 1114.5 L1371 1114.5 L1372 1114.5 L1373 1114.5 L1374 1114.5 L1375 1114.5 L1376 1114.5 L1377 1114.5 L1378 1114.5 L1379 1114.5 L1380 1114.5 L1381 1114.5 L1382 1114.5 L1383 1114.5 L1384 1114.5 L1385 1114.5 L1386 1114.5 L1387 1114.5 L1388 1114.5 L1389 1114.5 L1390 1114.5 L1391 1114.5 L1392 1114.5 L1393 1114.5 L1394 1114.5 L1395 1114.5 L1396 1114.5 L1397 1114.4 L1398 1114.4 L1399 1114.3 L1400 1114.2 L1401 1114 L1402 1113.9 L1403 1113.8 L1404 1113.6 L1405 1113.5 L1406 1113.4 L1407 1113.2 L1408 1113.1 L1409 1113.1 L1410 1113 L1411 1113 L1412 1112.9 L1413 1112.9 L1414 1112.9 L1415 1112.8 L1416 1112.8 L1417 1112.8 L1418 1112.7 L1419 1112.7 L1420 1112.7 L1421 1112.7 L1422 1112.7 L1423 1112.7 L1424 1112.6 L1425 1112.6 L1426 1112.6 L1427 1112.6 L1428 1112.6 L1429 1112.6 L1430 1112.6 L1431 1112.6 L1432 1112.5 L1433 1112.5 L1434 1112.5 L1435 1112.5 L1436 1112.5 L1437 1112.5 L1438 1112.4 L1439 1112.4 L1440 1112.4 L1441 1112.4 L1442 1112.3 L1443 1112.3 L1444 1112.3 L1445 1112.2 L1446 1112.2 L1447 1112.2 L1448 1112.1 L1449 1112.1 L1450 1112 L1451 1111.8 L1452 1111.4 L1453 1110.8 L1454 1110.1 L1455 1109.4 L1456 1108.6 L1457 1108 L1458 1107.4 L1459 1107.1 L1459.8 1107 L1460 1107 L1461 1107.2 L1462 1107.6 L1463 1108.2 L1464 1108.8 L1465 1109.6 L1466 1110.3 L1467 1111 L1468 1111.5 L1469 1111.9 L1470 1112 L1471 1112 L1472 1112 L1473 1111.9 L1474 1111.9 L1475 1111.8 L1476 1111.7 L1477 1111.6 L1478 1111.5 L1479 1111.4 L1480 1111.2 L1481 1111.1 L1482 1111 L1483 1110.9 L1484 1110.8 L1485 1110.6 L1486 1110.5 L1487 1110.4 L1488 1110.3 L1489 1110.2 L1490 1110.1 L1491 1110.1 L1492 1110 L1493 1110 L1494 1110 L1495 1110 L1496 1110.1 L1497 1110.3 L1498 1110.5 L1499 1110.8 L1500 1111.1 L1501 1111.4 L1502 1111.7 L1503 1112.1 L1504 1112.4 L1505 1112.8 L1506 1113.1 L1507 1113.4 L1508 1113.6 L1509 1113.8 L1510 1114 L1511 1114.1 L1512 1114.3 L1513 1114.4 L1514 1114.5 L1515 1114.6 L1516 1114.7 L1517 1114.8 L1518 1114.9 L1519 1115 L1520 1115 L1521 1115 L1522 1115 L1523 1115 L1524 1114.9 L1525 1114.9 L1526 1114.8 L1527 1114.7 L1528 1114.6 L1529 1114.5 L1530 1114.4 L1531 1114.2 L1532 1114.1 L1533 1113.9 L1534 1113.8 L1535 1113.6 L1536 1113.5 L1537 1113.3 L1538 1113.1 L1539 1113 L1540 1112.8 L1541 1112.6 L1542 1112.5 L1543 1112.3 L1544 1112.1 L1545 1112 L1546 1111.8 L1547 1111.7 L1548 1111.5 L1549 1111.3 L1550 1111.1 L1551 1110.9 L1552 1110.7 L1553 1110.4 L1554 1110.2 L1555 1110 L1556 1109.7 L1557 1109.5 L1558 1109.2 L1559 1109 L1560 1108.8 L1561 1108.5 L1562 1108.3 L1563 1108.1 L1564 1107.9 L1565 1107.7 L1566 1107.5 L1567 1107.3 L1568 1107.2 L1569 1107 L1570 1106.9 L1571 1106.8 L1572 1106.7 L1573 1106.6 L1574 1106.5 L1575 1106.5 L1575.7 1106.5 L1576 1106.5 L1577 1106.5 L1578 1106.5 L1579 1106.6 L1580 1106.6 L1581 1106.6 L1582 1106.7 L1583 1106.7 L1584 1106.8 L1585 1106.8 L1586 1106.9 L1587 1106.9 L1588 1107 L1589 1107.1 L1590 1107.1 L1591 1107.2 L1592 1107.2 L1593 1107.3 L1594 1107.3 L1595 1107.4 L1596 1107.4 L1597 1107.5 L1598 1107.5 L1599 1107.5 L1600 1107.5 L1601 1107.5 L1602 1107.4 L1603 1107.2 L1604 1107 L1605 1106.7 L1606 1106.4 L1607 1106 L1608 1105.6 L1609 1105.2 L1610 1104.8 L1611 1104.4 L1612 1103.9 L1613 1103.5 L1614 1103.1 L1615 1102.7 L1616 1102.3 L1617 1102 L1618 1101.7 L1619 1101.5 L1620 1101.3 L1621 1101.2 L1622 1101 L1623 1100.9 L1624 1100.9 L1625 1100.8 L1626 1100.7 L1627 1100.6 L1628 1100.6 L1629 1100.5 L1630 1100.4 L1631 1100.3 L1632 1100.2 L1633 1100.1 L1634 1100 L1635 1099.8 L1635.8 1099.6 L1636 1099.5 L1637 1099 L1638 1098.2 L1639 1097 L1640 1095.6 L1641 1094 L1642 1092.2 L1643 1089.7 L1644 1085.8 L1645 1080 L1646 1055.9 L1646.5 1040 L1647 1025.6 L1648 994.6 L1649 958.6 L1650 919.6 L1650.5 900 L1651 879.2 L1652 835 L1653 800 L1654 774.6 L1655 752.5 L1656 738.9 L1656.5 737 L1657 741.1 L1658 765.5 L1658.5 780 L1659 796.5 L1660 839 L1661 880 L1662 913.2 L1663 942.4 L1663.3 950 L1664 966.1 L1665 986.1 L1665.5 994.6 L1666 1002.6 L1667 1017.6 L1668 1030.5 L1669 1040 L1670 1047 L1671 1053.2 L1672 1058.4 L1673 1063 L1674 1066.8 L1675 1070 L1676 1072.8 L1677 1075.3 L1678 1077.7 L1679 1079.8 L1680 1081.6 L1681 1083.3 L1682 1084.7 L1683 1086 L1684 1087.2 L1685 1088.3 L1686 1089.4 L1687 1090.5 L1688 1091.4 L1689 1092.2 L1690 1092.9 L1691 1093.4 L1692 1093.7 L1692.6 1093.7 L1693 1093.7 L1694 1093.6 L1695 1093.3 L1696 1093 L1697 1092.6 L1698 1092.1 L1699 1091.6 L1700 1091 L1701 1090.5 L1702 1090 L1703 1089.4 L1704 1088.7 L1705 1087.9 L1706 1087.1 L1707 1086.3 L1708 1085.6 L1709 1085.1 L1710 1084.8 L1710.5 1084.8 L1711 1084.9 L1712 1085.4 L1713 1086.3 L1714 1087.4 L1715 1088.5 L1716 1089.6 L1717 1090.5 L1718 1091 L1718.4 1091 L1719 1090.9 L1720 1090.5 L1721 1089.8 L1722 1089 L1723 1088.3 L1724 1088 L1725 1087.9 L1726 1087.8 L1727 1087.7 L1728 1087.6 L1729 1087.5 L1730 1087.5 L1730.4 1087.5 L1731 1087.6 L1732 1088 L1733 1088.7 L1734 1089.7 L1735 1090.8 L1736 1091.9 L1737 1093.1 L1738 1094.3 L1739 1095.2 L1740 1096 L1741 1096.6 L1742 1097.3 L1743 1097.9 L1744 1098.6 L1745 1099.2 L1746 1099.8 L1747 1100.5 L1748 1101.1 L1749 1101.7 L1750 1102.2 L1751 1102.8 L1752 1103.3 L1753 1103.8 L1754 1104.3 L1755 1104.7 L1756 1105.1 L1757 1105.5 L1758 1105.8 L1759 1106 L1760 1106.2 L1761 1106.4 L1762 1106.5 L1763 1106.5 L1764 1106.5 L1765 1106.4 L1766 1106.3 L1767 1106.1 L1768 1105.9 L1769 1105.7 L1770 1105.5 L1771 1105.2 L1772 1104.9 L1773 1104.5 L1774 1104.2 L1775 1103.8 L1776 1103.5 L1777 1103.1 L1778 1102.7 L1779 1102.3 L1780 1101.9 L1781 1101.5 L1782 1101.1 L1783 1100.7 L1784 1100.4 L1785 1100 L1786 1099.7 L1787 1099.4 L1788 1099.1 L1789 1098.8 L1790 1098.5 L1791 1098.2 L1792 1097.9 L1793 1097.5 L1794 1097.2 L1795 1096.7 L1796 1096.3 L1797 1095.7 L1798 1095.1 L1799 1094.4 L1800 1093.4 L1801 1092.1 L1802 1090.2 L1803 1087.9 L1804 1085.2 L1805 1082 L1806 1077.1 L1807 1069.6 L1808 1060.4 L1809 1050 L1810 1038.2 L1811 1023.7 L1812 1005.4 L1812.5 994.6 L1813 980.6 L1814 941.9 L1815 900 L1816 859.7 L1817 819 L1818 779.8 L1819 740.8 L1820 700 L1821 646.5 L1822 587.1 L1823 545.8 L1823.5 539.5 L1824 545.2 L1825 581.5 L1826 629.5 L1826.5 650 L1827 667.7 L1828 703.1 L1829 738 L1830 771.8 L1831 803.8 L1831.5 819 L1832 834 L1833 863.3 L1834 889.3 L1834.5 900 L1835 909.4 L1836 926.3 L1837 940.9 L1838 953.9 L1838.5 960 L1839 965.7 L1840 976.2 L1841 985.7 L1842 994.6 L1843 1003.2 L1844 1011.3 L1845 1019 L1846 1026.4 L1846.5 1030 L1847 1033.6 L1848 1040.7 L1849 1047.7 L1850 1054.3 L1851 1060.2 L1852 1065 L1853 1069 L1854 1072.6 L1855 1075.7 L1856 1078.5 L1857 1081 L1858 1083.3 L1859 1085.5 L1860 1087.6 L1861 1089.6 L1862 1091.5 L1863 1093.1 L1864 1094.6 L1865 1095.9 L1866 1097 L1867 1097.9 L1868 1098.9 L1869 1099.7 L1870 1100.5 L1871 1101.3 L1872 1102 L1873 1102.6 L1874 1103.2 L1875 1103.7 L1876 1104.1 L1877 1104.5 L1878 1104.7 L1879 1104.9 L1880 1105.1 L1881 1105.2 L1882 1105.4 L1883 1105.6 L1884 1105.7 L1885 1105.9 L1886 1106 L1887 1106.1 L1888 1106.2 L1889 1106.3 L1890 1106.5 L1891 1106.6 L1892 1106.6 L1893 1106.7 L1894 1106.8 L1895 1106.9 L1896 1107 L1897 1107.1 L1898 1107.1 L1899 1107.2 L1900 1107.3 L1901 1107.4 L1902 1107.4 L1903 1107.5 L1904 1107.6 L1905 1107.6 L1906 1107.7 L1907 1107.8 L1908 1107.8 L1909 1107.9 L1910 1108 L1911 1108.1 L1912 1108.1 L1912.6 1108.2 L1913 1108.2 L1914 1108.3 L1915 1108.4 L1916 1108.5 L1917 1108.6 L1918 1108.6 L1919 1108.7 L1920 1108.8 L1921 1108.9 L1922 1109 L1923 1109 L1924 1109.1 L1925 1109.2 L1926 1109.3 L1927 1109.3 L1928 1109.4 L1929 1109.5 L1930 1109.6 L1931 1109.6 L1932 1109.7 L1933 1109.8 L1934 1109.8 L1935 1109.9 L1936 1110 L1937 1110.1 L1938 1110.1 L1939 1110.2 L1940 1110.3 L1941 1110.3 L1942 1110.4 L1943 1110.5 L1944 1110.6 L1945 1110.6 L1946 1110.7 L1947 1110.8 L1948 1110.9 L1949 1110.9 L1950 1111 L1951 1111.1 L1952 1111.2 L1953 1111.2 L1954 1111.3 L1955 1111.4 L1956 1111.5 L1957 1111.6 L1958 1111.7 L1959 1111.8 L1960 1111.9 L1961 1112 L1962 1112.1 L1963 1112.2 L1964 1112.3 L1965 1112.4 L1966 1112.5 L1967 1112.6 L1968 1112.7 L1969 1112.7 L1970 1112.8 L1971 1112.9 L1972 1113 L1973 1113 L1974 1113.1 L1975 1113.1 L1976 1113.2 L1977 1113.2 L1978 1113.3 L1979 1113.3 L1980 1113.3 L1981 1113.3 L1982 1113.2 L1983 1112.8 L1984 1112.2 L1985 1111.5 L1986 1110.8 L1987 1110.1 L1988 1109.5 L1989 1109.1 L1990 1109 L1991 1109 L1992 1109.2 L1993 1109.4 L1994 1109.7 L1995 1110 L1996 1110.3 L1997 1110.7 L1998 1111 L1999 1111.4 L2000 1111.7 L2001 1111.9 L2002 1112.1 L2003 1112.3 L2003.8 1112.3 L2004 1112.3 L2005 1112.1 L2006 1111.8 L2007 1111.3 L2008 1110.7 L2009 1110.1 L2010 1109.5 L2011 1108.9 L2012 1108.4 L2013 1108.1 L2014 1108 L2015 1108 L2016 1108.1 L2017 1108.3 L2018 1108.5 L2019 1108.7 L2020 1109 L2021 1109.3 L2022 1109.6 L2023 1109.9 L2024 1110.2 L2025 1110.6 L2026 1110.9 L2027 1111.2 L2028 1111.5 L2029 1111.8 L2030 1112 L2031 1112.2 L2032 1112.4 L2033 1112.6 L2034 1112.8 L2035 1113 L2036 1113.2 L2037 1113.4 L2038 1113.6 L2039 1113.7 L2040 1113.9 L2041 1114.1 L2042 1114.2 L2043 1114.4" fill="none" stroke="#000" stroke-width="3.3" stroke-linejoin="round"/>
<path d="M858 1114.5 L859 1114.5 L860 1114.5 L861 1114.5 L862 1114.5 L863 1114.5 L864 1114.5 L865 1114.5 L866 1114.5 L867 1114.5 L868 1114.5 L869 1114.5 L870 1114.5 L871 1114.5 L872 1114.5 L873 1114.5 L874 1114.5 L875 1114.5 L876 1114.5 L877 1114.5 L878 1114.5 L879 1114.5 L880 1114.5 L881 1114.5 L882 1114.5 L883 1114.5 L884 1114.5 L885 1114.5 L886 1114.3 L887 1113.9 L888 1113.2 L889 1112.4 L890 1111.5 L891 1110.7 L892 1110 L893 1109.3 L894 1108.6 L895 1107.9 L896 1107.1 L897 1106.4 L898 1105.8 L899 1105.4 L900 1105.1 L900.8 1105 L901 1105 L902 1105.2 L903 1105.6 L904 1106.1 L905 1106.8 L906 1107.5 L907 1108.2 L908 1108.9 L909 1109.5 L910 1110 L911 1110.4 L912 1110.8 L913 1111.2 L914 1111.6 L915 1112 L916 1112.3 L917 1112.6 L918 1112.8 L919 1113 L920 1113 L921 1113 L922 1113 L923 1113 L924 1113 L925 1112.9 L926 1112.9 L927 1112.9 L928 1112.8 L929 1112.8 L930 1112.7 L931 1112.7 L932 1112.6 L933 1112.5 L934 1112.5 L935 1112.4 L936 1112.3 L937 1112.2 L938 1112.2 L939 1112.1 L940 1112 L941 1111.9 L942 1111.7 L943 1111.6 L944 1111.4 L945 1111.1 L946 1110.9 L947 1110.6 L948 1110.3 L949 1110 L950 1109.6 L951 1109.3 L952 1109 L953 1108.6 L954 1108.3 L955 1108 L956 1107.6 L957 1107.2 L958 1106.8 L959 1106.3 L960 1105.8 L961 1105.2 L962 1104.7 L963 1104.3 L964 1103.9 L965 1103.5 L966 1103.2 L967 1103.1 L968 1103 L969 1103.1 L970 1103.4 L971 1103.9 L972 1104.4 L973 1105 L974 1105.6 L975 1106.1 L976 1106.6 L977 1106.9 L978 1107 L979 1107 L980 1106.9 L981 1106.9 L982 1106.8 L983 1106.7 L984 1106.6 L985 1106.4 L986 1106.3 L987 1106.1 L988 1106 L989 1105.8 L990 1105.5 L991 1105.1 L992 1104.7 L993 1104.3 L994 1103.9 L995 1103.6 L996 1103.3 L997 1103.1 L998 1103 L999 1103.1 L1000 1103.3 L1001 1103.6 L1002 1104 L1003 1104.5 L1004 1105 L1005 1105.5 L1006 1106 L1007 1106.4 L1008 1106.7 L1009 1106.9 L1010 1107 L1011 1106.9 L1012 1106.7 L1013 1106.4 L1014 1106 L1015 1105.5 L1016 1105 L1017 1104.5 L1018 1104 L1019 1103.5 L1020 1102.8 L1021 1102 L1022 1101.3 L1023 1100.5 L1024 1099.8 L1025 1099.3 L1026 1098.9 L1027 1098.8 L1028 1098.9 L1029 1099.3 L1030 1099.9 L1031 1100.6 L1032 1101.3 L1033 1102.1 L1034 1102.9 L1035 1103.5 L1036 1104 L1037 1104.4 L1038 1104.8 L1039 1105.2 L1040 1105.6 L1041 1106 L1042 1106.3 L1043 1106.7 L1044 1107 L1045 1107.3 L1046 1107.5 L1047 1107.7 L1048 1107.9 L1049 1108 L1050 1108 L1051 1108 L1052 1107.9 L1053 1107.8 L1054 1107.7 L1055 1107.5 L1056 1107.3 L1057 1107.1 L1058 1106.9 L1059 1106.7 L1060 1106.4 L1061 1106.1 L1062 1105.8 L1063 1105.6 L1064 1105.3 L1065 1105 L1066 1104.7 L1067 1104.2 L1068 1103.8 L1069 1103.2 L1070 1102.6 L1071 1102 L1072 1101.4 L1073 1100.8 L1074 1100.3 L1075 1099.8 L1076 1099.4 L1077 1099.1 L1078 1098.9 L1079 1098.8 L1080 1099 L1081 1099.4 L1082 1100.1 L1083 1101 L1084 1101.9 L1085 1102.9 L1086 1103.8 L1087 1104.7 L1088 1105.4 L1089 1105.8 L1090 1106 L1091 1106 L1092 1105.9 L1093 1105.8 L1094 1105.7 L1095 1105.5 L1096 1105.2 L1097 1105 L1098 1104.7 L1099 1104.4 L1100 1104 L1101 1103.3 L1102 1101.9 L1103 1100.2 L1104 1098.1 L1105 1096 L1106 1093.9 L1107 1092 L1108 1090.1 L1109 1087.9 L1110 1085.5 L1111 1083.3 L1112 1081.2 L1113 1079.5 L1114 1078.4 L1115 1078 L1116 1078.6 L1117 1080.2 L1118 1082.5 L1119 1085.1 L1120 1087.7 L1121 1090 L1122 1092.2 L1123 1094.7 L1124 1097.2 L1125 1099.6 L1126 1101.7 L1127 1103.2 L1128 1104 L1129 1104.3 L1130 1104.7 L1131 1105 L1132 1105.2 L1133 1105.4 L1134 1105.6 L1135 1105.8 L1136 1106 L1137 1106.1 L1138 1106.3 L1139 1106.4 L1140 1106.5 L1141 1106.6 L1142 1106.7 L1143 1106.8 L1144 1106.9 L1145 1107 L1146 1107.1 L1147 1107.2 L1148 1107.3 L1149 1107.4 L1150 1107.5 L1151 1107.6 L1152 1107.6 L1153 1107.7 L1154 1107.8 L1155 1107.8 L1156 1107.9 L1157 1107.9 L1158 1108 L1159 1108 L1160 1108 L1161 1108 L1162 1107.9 L1163 1107.8 L1164 1107.7 L1165 1107.6 L1166 1107.4 L1167 1107.3 L1168 1107.1 L1169 1106.9 L1170 1106.7 L1171 1106.6 L1172 1106.4 L1173 1106.3 L1174 1106.2 L1175 1106.1 L1176 1106 L1177 1106 L1178 1106.1 L1179 1106.5 L1180 1107 L1181 1107.6 L1182 1108.2 L1183 1108.9 L1184 1109.5 L1185 1110 L1186 1110.4 L1187 1110.9 L1188 1111.3 L1189 1111.8 L1190 1112.2 L1191 1112.6 L1192 1112.9 L1193 1113.2 L1194 1113.4 L1195 1113.5 L1196 1113.5 L1197 1113.6 L1198 1113.6 L1199 1113.6 L1200 1113.7 L1201 1113.7 L1202 1113.7 L1203 1113.8 L1204 1113.8 L1205 1113.8 L1206 1113.9 L1207 1113.9 L1208 1113.9 L1209 1113.9 L1210 1114 L1211 1114 L1212 1114 L1213 1114 L1214 1114.1 L1215 1114.1 L1216 1114.1 L1217 1114.1 L1218 1114.2 L1219 1114.2 L1220 1114.2 L1221 1114.2 L1222 1114.2 L1223 1114.2 L1224 1114.3 L1225 1114.3 L1226 1114.3 L1227 1114.3 L1228 1114.3 L1229 1114.3 L1230 1114.3 L1231 1114.4 L1232 1114.4 L1233 1114.4 L1234 1114.4 L1235 1114.4 L1236 1114.4 L1237 1114.4 L1238 1114.4 L1239 1114.4 L1240 1114.4 L1241 1114.4 L1242 1114.4 L1243 1114.5 L1244 1114.5 L1245 1114.5 L1246 1114.5 L1247 1114.5 L1248 1114.5 L1249 1114.5 L1250 1114.5 L1251 1114.5 L1252 1114.5 L1253 1114.5 L1254 1114.5 L1255 1114.5 L1256 1114.5 L1257 1114.5 L1258 1114.5 L1259 1114.5 L1260 1114.5 L1261 1114.5 L1262 1114.5 L1263 1114.5 L1264 1114.5 L1265 1114.5 L1266 1114.5 L1267 1114.5 L1268 1114.5 L1269 1114.5 L1270 1114.5 L1271 1114.5 L1272 1114.5 L1273 1114.5 L1274 1114.5 L1275 1114.5 L1276 1114.5 L1277 1114.5 L1278 1114.5 L1279 1114.5 L1280 1114.5 L1281 1114.5 L1282 1114.5 L1283 1114.5 L1284 1114.5 L1285 1114.5 L1286 1114.5 L1287 1114.5 L1288 1114.5 L1289 1114.5 L1290 1114.5 L1291 1114.5 L1292 1114.5 L1293 1114.5 L1294 1114.5 L1295 1114.5 L1296 1114.5 L1297 1114.5 L1298 1114.5 L1299 1114.5 L1300 1114.5 L1301 1114.5 L1302 1114.5 L1303 1114.5 L1304 1114.5 L1305 1114.5 L1306 1114.5 L1307 1114.5 L1308 1114.5 L1309 1114.5 L1310 1114.5 L1311 1114.5 L1312 1114.5 L1313 1114.5 L1314 1114.5 L1315 1114.5 L1316 1114.5 L1317 1114.5 L1318 1114.5 L1319 1114.5 L1320 1114.5 L1321 1114.5 L1322 1114.5 L1323 1114.5 L1324 1114.5 L1325 1114.5 L1326 1114.5 L1327 1114.5 L1328 1114.5 L1329 1114.5 L1330 1114.5 L1331 1114.5 L1332 1114.5 L1333 1114.5 L1334 1114.5 L1335 1114.5 L1336 1114.5 L1337 1114.5 L1338 1114.5 L1339 1114.5 L1340 1114.5 L1341 1114.5 L1342 1114.5 L1343 1114.5 L1344 1114.5 L1345 1114.5 L1346 1114.5 L1347 1114.5 L1348 1114.5 L1349 1114.5 L1350 1114.5 L1351 1114.5 L1352 1114.5 L1353 1114.5 L1354 1114.5 L1355 1114.5 L1356 1114.5 L1357 1114.5 L1358 1114.5 L1359 1114.5 L1360 1114.5 L1361 1114.5 L1362 1114.5 L1363 1114.5 L1364 1114.5 L1365 1114.5 L1366 1114.5 L1367 1114.5 L1368 1114.5 L1369 1114.5 L1370 1114.5 L1371 1114.5 L1372 1114.5 L1373 1114.5 L1374 1114.5 L1375 1114.5 L1376 1114.5 L1377 1114.5 L1378 1114.5 L1379 1114.5 L1380 1114.5 L1381 1114.5 L1382 1114.5 L1383 1114.5 L1384 1114.5 L1385 1114.5 L1386 1114.5 L1387 1114.5 L1388 1114.5 L1389 1114.5 L1390 1114.5 L1391 1114.5 L1392 1114.5 L1393 1114.5 L1394 1114.5 L1395 1114.5 L1396 1114.5 L1397 1114.5 L1398 1114.5 L1399 1114.5 L1400 1114.5 L1401 1114.5 L1402 1114.5 L1403 1114.5 L1404 1114.5 L1405 1114.5 L1406 1114.5 L1407 1114.5 L1408 1114.5 L1409 1114.5 L1410 1114.5 L1411 1114.5 L1412 1114.5 L1413 1114.5 L1414 1114.5 L1415 1114.5 L1416 1114.5 L1417 1114.5 L1418 1114.5 L1419 1114.5 L1420 1114.5 L1421 1114.5 L1422 1114.5 L1423 1114.5 L1424 1114.5 L1425 1114.5 L1426 1114.5 L1427 1114.5 L1428 1114.5 L1429 1114.5 L1430 1114.5 L1431 1114.5 L1432 1114.5 L1433 1114.5 L1434 1114.5 L1435 1114.5 L1436 1114.5 L1437 1114.5 L1438 1114.5 L1439 1114.5 L1440 1114.5 L1441 1114.5 L1442 1114.5 L1443 1114.5 L1444 1114.5 L1445 1114.5 L1446 1114.5 L1447 1114.5 L1448 1114.5 L1449 1114.5 L1450 1114.5 L1451 1114.5 L1452 1114.5 L1453 1114.5 L1454 1114.5 L1455 1114.5 L1456 1114.5 L1457 1114.5 L1458 1114.5 L1459 1114.5 L1460 1114.5 L1461 1114.5 L1462 1114.5 L1463 1114.5 L1464 1114.5 L1465 1114.5 L1466 1114.5 L1467 1114.5 L1468 1114.5 L1469 1114.5 L1470 1114.5 L1471 1114.5 L1472 1114.5 L1473 1114.5 L1474 1114.5 L1475 1114.5 L1476 1114.5 L1477 1114.5 L1478 1114.5 L1479 1114.5 L1480 1114.5 L1481 1114.5 L1482 1114.5 L1483 1114.5 L1484 1114.5 L1485 1114.5 L1486 1114.5 L1487 1114.5 L1488 1114.5 L1489 1114.5 L1490 1114.5 L1491 1114.5 L1492 1114.5 L1493 1114.5 L1494 1114.5 L1495 1114.5 L1496 1114.5 L1497 1114.5 L1498 1114.5 L1499 1114.5 L1500 1114.5 L1501 1114.5 L1502 1114.5 L1503 1114.5 L1504 1114.5 L1505 1114.5 L1506 1114.5 L1507 1114.5 L1508 1114.5 L1509 1114.5 L1510 1114.5 L1511 1114.5 L1512 1114.5 L1513 1114.5 L1514 1114.5 L1515 1114.5 L1516 1114.5 L1517 1114.5 L1518 1114.5 L1519 1114.5 L1520 1114.5 L1521 1114.5 L1522 1114.5 L1523 1114.4 L1524 1114.4 L1525 1114.4 L1526 1114.3 L1527 1114.2 L1528 1114.1 L1529 1114 L1530 1114 L1531 1113.9 L1532 1113.7 L1533 1113.6 L1534 1113.5 L1535 1113.4 L1536 1113.3 L1537 1113.1 L1538 1113 L1539 1112.8 L1540 1112.7 L1541 1112.6 L1542 1112.4 L1543 1112.3 L1544 1112.1 L1545 1112 L1546 1111.9 L1547 1111.7 L1548 1111.5 L1549 1111.4 L1550 1111.2 L1551 1111 L1552 1110.8 L1553 1110.6 L1554 1110.4 L1555 1110.2 L1556 1110 L1557 1109.7 L1558 1109.5 L1559 1109.3 L1560 1109 L1561 1108.8 L1562 1108.5 L1563 1108.2 L1564 1108 L1565 1107.7 L1566 1107.4 L1567 1107.2 L1568 1106.9 L1569 1106.6 L1570 1106.3 L1571 1106 L1572 1105.8 L1573 1105.5 L1574 1105.2 L1575 1104.9 L1575.7 1104.7 L1576 1104.6 L1577 1104.3 L1578 1104 L1579 1103.7 L1580 1103.4 L1581 1103.1 L1582 1102.8 L1583 1102.5 L1584 1102.1 L1585 1101.8 L1586 1101.4 L1587 1101.1 L1588 1100.7 L1589 1100.3 L1590 1099.9 L1591 1099.4 L1592 1099 L1593 1098.5 L1594 1098.1 L1595 1097.6 L1596 1097 L1597 1096.5 L1598 1095.9 L1599 1095.3 L1600 1094.7 L1601 1094.1 L1602 1093.4 L1603 1092.7 L1604 1092 L1605 1091.2 L1606 1090.5 L1606.6 1090 L1607 1089.7 L1608 1088.8 L1609 1088 L1610 1087.1 L1611 1086.1 L1612 1085 L1613 1083.9 L1614 1082.7 L1615 1081.5 L1616 1080.1 L1617 1078.6 L1618 1076.9 L1619 1075 L1620 1072.9 L1621 1070.5 L1622 1068 L1623 1065.3 L1624 1062.4 L1625 1059.5 L1626 1056.4 L1627 1053.3 L1628 1050.2 L1629 1047 L1630 1043.7 L1631 1040.2 L1632 1036.5 L1633 1032.6 L1634 1028.6 L1635 1024.3 L1636 1020 L1637 1015.7 L1638 1011.5 L1639 1006.9 L1640 1001.4 L1641 994.7 L1642 985.4 L1643 973 L1644 958.1 L1645 941.3 L1646 923.3 L1647 904.8 L1648 889.3 L1649 875.1 L1650 854.4 L1651 819.6 L1651.4 800 L1652 672.6 L1652.1 526.3 L1653 473.7 L1654 451.1 L1655 440 L1656 426.3 L1657 415.2 L1658 408.7 L1658.5 407.8 L1659 409.3 L1660 420.3 L1661 440 L1662 507.5 L1662.3 526.3 L1663 555.9 L1664 589.2 L1665 617.6 L1666 647.5 L1666.7 672.6 L1667 685.1 L1668 733.5 L1669 782.7 L1669.4 800 L1670 824.7 L1671 861.8 L1671.5 875 L1672 885.1 L1673 902.9 L1674 917.8 L1675 930.3 L1676 940.9 L1677 950 L1678 958 L1679 965.1 L1680 971.5 L1681 977.2 L1682 982.6 L1683 987.7 L1684 992.7 L1684.4 994.7 L1685 997.7 L1686 1002.8 L1687 1007.7 L1688 1012.6 L1689 1017.3 L1690 1021.8 L1691 1026.1 L1692 1030.1 L1693 1033.7 L1694 1037.1 L1694.9 1039.7 L1695 1040 L1696 1042.7 L1697 1045.4 L1698 1048.1 L1699 1050.7 L1700 1053.1 L1701 1055.4 L1702 1057.5 L1703 1059.3 L1704 1060.9 L1705 1062.2 L1706 1063.1 L1706.9 1063.6 L1707 1063.6 L1708 1064 L1709 1064.4 L1710 1064.7 L1711 1065 L1712 1065.2 L1713 1065.5 L1714 1065.6 L1715 1065.8 L1716 1065.9 L1717 1066 L1718 1066 L1719 1066 L1720 1065.9 L1721 1065.8 L1722 1065.7 L1723 1065.5 L1724 1065.3 L1725 1065.2 L1726 1065 L1727 1064.8 L1728 1064.7 L1729 1064.6 L1730 1064.5 L1731 1064.5 L1732 1064.5 L1733 1064.7 L1734 1064.9 L1735 1065.2 L1736 1065.5 L1737 1065.9 L1738 1066.3 L1739 1066.7 L1740 1067.2 L1741 1067.6 L1742 1068 L1743 1068.4 L1744 1069 L1745 1069.6 L1746 1070.2 L1747 1070.9 L1748 1071.5 L1749 1072 L1750 1072.5 L1751 1072.8 L1752 1073 L1753 1073.1 L1754 1073.2 L1755 1073.2 L1756 1073.3 L1757 1073.4 L1758 1073.4 L1759 1073.4 L1760 1073.5 L1761 1073.5 L1762 1073.5 L1763 1073.4 L1764 1073.2 L1765 1072.8 L1766 1072.2 L1767 1071.6 L1768 1070.9 L1769 1070.1 L1770 1069.3 L1771 1068.5 L1772 1067.6 L1773 1066.8 L1774 1066 L1775 1065.2 L1776 1064.4 L1777 1063.5 L1778 1062.6 L1779 1061.7 L1780 1060.7 L1781 1059.7 L1782 1058.6 L1783 1057.4 L1784 1056.3 L1785 1055 L1786 1053.7 L1787 1052.4 L1788 1051 L1789 1049.5 L1790 1047.8 L1791 1046 L1792 1044 L1793 1041.7 L1793.8 1039.7 L1794 1039.1 L1795 1035.7 L1796 1031.3 L1797 1026.2 L1798 1020.8 L1799 1015.3 L1800 1010 L1801 1005 L1802 1000 L1803 994.9 L1804 989.6 L1805 983.9 L1805.7 979.7 L1806 977.8 L1807 971.5 L1808 964.8 L1809 957.7 L1810 949.9 L1811 941.3 L1811.7 934.8 L1812 931.9 L1813 921.7 L1814 910.1 L1815 896.1 L1816 878.8 L1816.2 874.9 L1817 860.4 L1818 826.3 L1818.4 800 L1818.9 535 L1819 506.7 L1819.7 380 L1820 357.7 L1821 303.1 L1822 270.9 L1822.5 260 L1823 250.4 L1824 233.6 L1825 223.4 L1825.5 222 L1826 223.4 L1827 233.5 L1828 250.3 L1828.5 260 L1829 273.7 L1830 317.6 L1831 369.9 L1831.2 380 L1832 424.9 L1833 486.2 L1834 535 L1835 569.2 L1836 600 L1837 627.7 L1838 652.8 L1839 675.9 L1840 697.3 L1841 717.6 L1842 737.3 L1843 756.8 L1844 776.6 L1845 797.2 L1846 819 L1847 843 L1848 868.6 L1849 894 L1850 917.2 L1851 936.5 L1852 950 L1853 959.2 L1854 966.9 L1855 973.6 L1856 979.3 L1857 984.6 L1858 989.6 L1859 994.6 L1860 999.7 L1861 1004.6 L1862 1009.3 L1863 1013.8 L1864 1017.9 L1865 1021.7 L1866 1025 L1867 1028.1 L1868 1031 L1869 1033.8 L1870 1036.4 L1871 1039 L1872 1041.4 L1873 1043.6 L1874 1045.8 L1875 1047.8 L1876 1049.6 L1877 1051.4 L1878 1053 L1879 1054.5 L1880 1056 L1881 1057.4 L1882 1058.7 L1883 1060 L1884 1061.2 L1885 1062.4 L1886 1063.6 L1887 1064.7 L1888 1065.7 L1889 1066.7 L1890 1067.7 L1891 1068.6 L1892 1069.5 L1893 1070.4 L1894 1071.2 L1895 1072 L1896 1072.8 L1897 1073.5 L1898 1074.2 L1899 1074.9 L1900 1075.6 L1901 1076.3 L1902 1077 L1903 1077.6 L1904 1078.2 L1905 1078.8 L1906 1079.3 L1907 1079.9 L1908 1080.4 L1909 1080.9 L1910 1081.3 L1911 1081.8 L1912 1082.2 L1912.6 1082.4 L1913 1082.6 L1914 1082.9 L1915 1083.3 L1916 1083.6 L1917 1084 L1918 1084.3 L1919 1084.6 L1920 1084.9 L1921 1085.3 L1922 1085.6 L1923 1085.8 L1924 1086.1 L1925 1086.4 L1926 1086.7 L1927 1086.9 L1928 1087.2 L1929 1087.4 L1930 1087.7 L1931 1087.9 L1932 1088.2 L1933 1088.4 L1934 1088.6 L1935 1088.9 L1936 1089.1 L1937 1089.3 L1938 1089.5 L1939 1089.7 L1940 1090 L1941 1090.2 L1942 1090.4 L1943 1090.6 L1944 1090.8 L1945 1091 L1946 1091.2 L1947 1091.4 L1948 1091.6 L1949 1091.8 L1950 1092 L1951 1092.2 L1952 1092.4 L1953 1092.6 L1954 1092.8 L1955 1092.9 L1956 1093.1 L1957 1093.3 L1958 1093.5 L1959 1093.7 L1960 1093.8 L1961 1094 L1962 1094.2 L1963 1094.3 L1964 1094.5 L1965 1094.7 L1966 1094.8 L1967 1095 L1968 1095.2 L1969 1095.3 L1970 1095.5 L1971 1095.6 L1972 1095.8 L1973 1095.9 L1974 1096.1 L1975 1096.2 L1976 1096.4 L1977 1096.5 L1978 1096.7 L1979 1096.8 L1980 1097 L1981 1097.1 L1981.4 1097.2 L1982 1097.3 L1983 1097.4 L1984 1097.6 L1985 1097.7 L1986 1097.9 L1987 1098 L1988 1098.2 L1989 1098.3 L1990 1098.5 L1991 1098.6 L1992 1098.8 L1993 1098.9 L1994 1099 L1995 1099.2 L1996 1099.3 L1997 1099.4 L1998 1099.6 L1999 1099.7 L2000 1099.8 L2001 1100 L2002 1100.1 L2003 1100.2 L2004 1100.3 L2005 1100.5 L2006 1100.6 L2007 1100.7 L2008 1100.8 L2009 1100.9 L2010 1101 L2011 1101.1 L2012 1101.2 L2013 1101.3 L2014 1101.4 L2015 1101.5 L2016 1101.6 L2017 1101.7 L2018 1101.8 L2019 1101.9 L2020 1102 L2021 1102 L2022 1102.1 L2023 1102.2 L2024 1102.3 L2025 1102.4 L2026 1102.5 L2027 1102.6 L2028 1102.6 L2029 1102.7 L2030 1102.8 L2031 1102.9 L2032 1102.9 L2033 1103 L2034 1103.1 L2035 1103.2 L2036 1103.2 L2037 1103.3 L2038 1103.4 L2039 1103.4 L2040 1103.5 L2041 1103.5 L2042 1103.6 L2043 1103.6 L2044 1103.7" fill="none" stroke="#c4161c" stroke-width="3.3" stroke-linejoin="round"/>
<path d="M359.3 865 L359.3 1003 M349.8 990 L359.3 1004 L368.8 990" stroke="#000" stroke-width="3.5" fill="none" stroke-linejoin="miter" stroke-linecap="butt"/>
<path d="M647.3 842 L647.3 1019 M637.8 1006 L647.3 1020 L656.8 1006" stroke="#000" stroke-width="3.5" fill="none" stroke-linejoin="miter" stroke-linecap="butt"/>
<path d="M1145.6 865 L1145.6 1041 M1136.1 1028 L1145.6 1042 L1155.1 1028" stroke="#000" stroke-width="3.5" fill="none" stroke-linejoin="miter" stroke-linecap="butt"/>
<path d="M1723.5 713.6 L1723.5 430.8 M1713.5 445.8 L1723.5 429.8 L1733.5 445.8" stroke="#000" stroke-width="3.5" fill="none"/>
<text x="1629.5" y="390" font-size="45.5" text-anchor="start" fill="#000" font-weight="normal" stroke="#000" stroke-width="0.5">Ca</text>
<text x="1794.3" y="206.9" font-size="45.5" text-anchor="start" fill="#000" font-weight="normal" stroke="#000" stroke-width="0.5">Ca</text>
<path d="M1885 486.8 L1835 486.8 M1845 479.8 L1834 486.8 L1845 493.8" stroke="#b01822" stroke-width="2.5" fill="none"/>
<text x="1893.5" y="501.7" font-size="35.6" text-anchor="start" fill="#b01822" font-weight="normal" stroke="#b01822" stroke-width="0.4">Crest</text>
<path d="M1870.7 886.3 L1835 886.3 M1845 879.3 L1834 886.3 L1845 893.3" stroke="#000" stroke-width="2.5" fill="none"/>
<text x="1877.2" y="884.4" font-size="36" text-anchor="start" fill="#000" font-weight="normal" stroke="#000" stroke-width="0.5">Basalt for</text>
<text x="1877.2" y="924" font-size="36" text-anchor="start" fill="#000" font-weight="normal" stroke="#000" stroke-width="0.5">comparison</text>
<text x="1082.5" y="197.4" font-size="61.5" text-anchor="start" fill="#c4161c" font-weight="normal" stroke="#c4161c" stroke-width="0.5">Crest</text>
<text x="373.5" y="165.7" font-size="40.8" text-anchor="start" fill="#000" font-weight="normal" stroke="#000" stroke-width="0.5">Veins viewed</text>
<text x="373.1" y="211.9" font-size="40.8" text-anchor="start" fill="#000" font-weight="normal" stroke="#000" stroke-width="0.5">from above</text>

<path d="M606.4 177 L630 251 M606.4 177 L770 298" stroke="#000" stroke-width="3" fill="none"/>
<path d="M634.2 261 L619.5 240 L636.5 236 Z" fill="#000" stroke="#000" stroke-width="2" stroke-linejoin="round"/>
<path d="M783 307 L758 299 L768 285 Z" fill="#000" stroke="#000" stroke-width="2" stroke-linejoin="round"/>
<text x="760.1" y="237.4" font-size="35.5" font-weight="bold" fill="#c4161c">Point</text>
<path d="M799 247 L799 280" stroke="#c4161c" stroke-width="3.5"/>
<path d="M789 275 L809 275 L799 293 Z" fill="#c4161c"/>
<path d="M783 327.5 L795.5 327.5 M804.5 327.5 L815.5 327.5 M800.5 312 L800.5 322 M800.5 332 L800.5 346.5" stroke="#c4161c" stroke-width="5.5"/>
<rect x="810.3" y="662" width="114" height="8" fill="#fff" stroke="#111" stroke-width="3.2"/>
<text x="829.7" y="657.7" font-size="32.2" fill="#fff">1 cm</text>

<g clip-path="url(#clip2)"><g filter="url(#tex2)">
<rect x="440" y="1280" width="680" height="690" fill="#4c4c4c"/>
<g filter="url(#blur20)">
  <ellipse cx="800" cy="1330" rx="90" ry="50" fill="#707070"/>
  <ellipse cx="1000" cy="1420" rx="120" ry="80" fill="#636363"/>
  <ellipse cx="1050" cy="1600" rx="70" ry="130" fill="#666"/>
  <ellipse cx="620" cy="1450" rx="150" ry="60" fill="#4e4e4e"/>
  <ellipse cx="790" cy="1480" rx="60" ry="50" fill="#444"/>
  <ellipse cx="560" cy="1640" rx="100" ry="100" fill="#666666"/>
  <ellipse cx="960" cy="1740" rx="90" ry="90" fill="#5c5c5c"/>
  <ellipse cx="760" cy="1880" rx="220" ry="80" fill="#484848"/>
</g>
<g filter="url(#blur5)">
  <path d="M470 1525 L560 1505 L640 1515 L700 1545 L715 1640 L700 1720 L620 1740 L540 1755 L480 1730 L462 1640 Z" fill="#6c6c6c"/>
  <ellipse cx="678" cy="1645" rx="30" ry="40" fill="#383838"/>
  <path d="M714 1522 L761 1528 L792 1583 L832 1603 L851 1662 L890 1779 L894 1818 L812 1810 L785 1787 L773 1740 L730 1736 L691 1713 L714 1642 Z" fill="#a8a8a8"/>
  <path d="M724 1565 L778 1562 L800 1600 L838 1630 L848 1675 L812 1698 L762 1690 L728 1652 L716 1602 Z" fill="#d4d4d4"/>
  <path d="M800 1725 L858 1722 L884 1790 L880 1814 L820 1806 Z" fill="#b8b8b8"/>
  <circle cx="685" cy="1563" r="27" fill="#bcbcbc"/>
  <path d="M482 1748 L540 1756 L600 1782 L660 1768 L700 1744 L760 1762 L800 1790 L880 1814 L898 1824 L860 1830 L790 1812 L720 1784 L660 1800 L600 1808 L530 1790 L472 1776 Z" fill="#101010"/>
  <ellipse cx="988" cy="1672" rx="22" ry="28" fill="#3c3c3c"/>
</g>
<g filter="url(#blur2)">
  <circle cx="682" cy="1559" r="7" fill="#333"/>
  <circle cx="520" cy="1560" r="16" fill="#888"/><circle cx="600" cy="1545" r="18" fill="#8a8a8a"/><circle cx="560" cy="1620" r="20" fill="#858585"/>
  <circle cx="640" cy="1610" r="17" fill="#8e8e8e"/><circle cx="500" cy="1680" r="15" fill="#7e7e7e"/><circle cx="590" cy="1700" r="20" fill="#888"/>
  <circle cx="660" cy="1690" r="18" fill="#8c8c8c"/><circle cx="530" cy="1720" r="14" fill="#6c6c6c"/>
  <path d="M548 1386 L603 1371 L664 1359 L680 1352 L727 1355 L754 1368 L761 1374 L804 1383 L831 1352 L874 1362 L881 1377 L918 1414 L854 1401 L804 1391 L760 1381 L727 1370 L680 1371 L664 1366 L603 1379 L550 1394 Z" fill="#0a0a0a"/>
  <ellipse cx="861" cy="1380" rx="8" ry="4" fill="#aaa"/>
  <path d="M968 1432 L1010 1442 L1070 1460 L1068 1468 L1010 1452 L966 1440 Z" fill="#262626"/>
</g>
</g>
<rect x="440" y="1280" width="680" height="690" fill="url(#vig2)"/>
<ellipse cx="780.7" cy="1622.6" rx="326" ry="333.6" fill="none" stroke="#1a1a1a" stroke-width="3" opacity="0.6"/>
</g>
<line x1="65" y1="1323.5" x2="65" y2="2416.5" stroke="#000" stroke-width="4.6" />
<line x1="65" y1="1541.5" x2="85" y2="1541.5" stroke="#333" stroke-width="2.6" />
<line x1="65" y1="1718.5" x2="85" y2="1718.5" stroke="#333" stroke-width="2.6" />
<line x1="65" y1="1895.5" x2="85" y2="1895.5" stroke="#333" stroke-width="2.6" />
<line x1="65" y1="2072.5" x2="85" y2="2072.5" stroke="#333" stroke-width="2.6" />
<line x1="65" y1="2249.5" x2="85" y2="2249.5" stroke="#333" stroke-width="2.6" />
<line x1="63" y1="2415.3" x2="657.6" y2="2415.3" stroke="#000" stroke-width="5.3" />
<line x1="174" y1="2395.5" x2="174" y2="2412.5" stroke="#444" stroke-width="2.4" />
<line x1="273.5" y1="2395.5" x2="273.5" y2="2412.5" stroke="#444" stroke-width="2.4" />
<line x1="372.5" y1="2395.5" x2="372.5" y2="2412.5" stroke="#444" stroke-width="2.4" />
<line x1="473" y1="2395.5" x2="473" y2="2412.5" stroke="#444" stroke-width="2.4" />
<line x1="573.5" y1="2395.5" x2="573.5" y2="2412.5" stroke="#444" stroke-width="2.4" />
<line x1="836" y1="2413.3" x2="2027" y2="2413.3" stroke="#000" stroke-width="5.5" />
<line x1="1065.6" y1="2393.2" x2="1065.6" y2="2411.5" stroke="#444" stroke-width="2.6" />
<line x1="1148.3" y1="2393.2" x2="1148.3" y2="2411.5" stroke="#444" stroke-width="2.6" />
<line x1="1231" y1="2393.2" x2="1231" y2="2411.5" stroke="#444" stroke-width="2.6" />
<line x1="1313.5" y1="2393.2" x2="1313.5" y2="2411.5" stroke="#444" stroke-width="2.6" />
<line x1="1395.5" y1="2393.2" x2="1395.5" y2="2411.5" stroke="#444" stroke-width="2.6" />
<line x1="1478" y1="2393.2" x2="1478" y2="2411.5" stroke="#444" stroke-width="2.6" />
<line x1="1559" y1="2393.2" x2="1559" y2="2411.5" stroke="#444" stroke-width="2.6" />
<line x1="1640.5" y1="2393.2" x2="1640.5" y2="2411.5" stroke="#444" stroke-width="2.6" />
<line x1="1721.5" y1="2393.2" x2="1721.5" y2="2411.5" stroke="#444" stroke-width="2.6" />
<line x1="1803" y1="2393.2" x2="1803" y2="2411.5" stroke="#444" stroke-width="2.6" />
<line x1="1884" y1="2393.2" x2="1884" y2="2411.5" stroke="#444" stroke-width="2.6" />
<line x1="1966" y1="2393.2" x2="1966" y2="2411.5" stroke="#444" stroke-width="2.6" />
<line x1="781.4" y1="2084.8" x2="629.4" y2="2498.1" stroke="#000" stroke-width="3" />
<line x1="954" y1="2091.5" x2="804" y2="2498.9" stroke="#000" stroke-width="3" />
<text x="239.1" y="2452.3" font-size="35.6" text-anchor="start" fill="#000" font-weight="normal" stroke="#000" stroke-width="0.5">285</text>
<text x="1124.8" y="2452.7" font-size="35.6" text-anchor="start" fill="#000" font-weight="normal" stroke="#000" stroke-width="0.5">310</text>
<text x="1561" y="2452.5" font-size="35.6" text-anchor="middle" fill="#000" font-weight="normal" stroke="#000" stroke-width="0.5">315</text>
<text x="1968.6" y="2452.5" font-size="35.6" text-anchor="middle" fill="#000" font-weight="normal" stroke="#000" stroke-width="0.5">320</text>
<text x="993" y="2502.2" font-size="40.9" text-anchor="start" fill="#000" font-weight="normal" stroke="#000" stroke-width="0.5">Wavelength (nm)</text>
<text x="267.1" y="2117.2" font-size="45.5" text-anchor="start" fill="#000" font-weight="normal" stroke="#000" stroke-width="0.5">Mg</text>
<text x="568.4" y="2115.5" font-size="45.5" text-anchor="start" fill="#000" font-weight="normal" stroke="#000" stroke-width="0.5">Si</text>
<text x="994.4" y="2235.8" font-size="45.5" text-anchor="start" fill="#000" font-weight="normal" stroke="#000" stroke-width="0.5">Al</text>
<text x="1078.6" y="2074.2" font-size="45.5" text-anchor="start" fill="#000" font-weight="normal" stroke="#000" stroke-width="0.5">Al</text>
<text x="0" y="0" font-size="41" text-anchor="start" fill="#000" font-weight="normal" transform="translate(31.8 2113.3) rotate(-90)" stroke="#000" stroke-width="0.5">Normalized intensity</text>
<path d="M69 2411 L70 2411 L71 2411 L72 2411 L73 2411 L74 2411 L75 2411 L76 2411 L77 2411 L78 2411 L79 2411 L80 2411 L81 2411 L82 2411 L83 2411 L84 2410.9 L85 2410.5 L86 2410 L87 2409.5 L88 2409 L89 2408.5 L90 2408.1 L91 2407.7 L92 2407.2 L93 2406.7 L94 2406.2 L95 2405.8 L96 2405.4 L97 2405 L98 2404.6 L99 2404.3 L100 2404.1 L101 2404 L101.7 2404 L102 2404 L103 2404.1 L104 2404.3 L105 2404.6 L106 2405 L107 2405.4 L108 2405.8 L109 2406.3 L110 2406.8 L111 2407.3 L112 2407.7 L113 2408.2 L114 2408.5 L115 2408.8 L116 2409.2 L117 2409.6 L118 2409.9 L119 2410.3 L120 2410.6 L121 2410.8 L122 2410.9 L123 2411 L124 2410.9 L125 2410.5 L126 2410 L127 2409.5 L128 2409 L129 2408.5 L130 2408.1 L131 2407.7 L132 2407.2 L133 2406.8 L134 2406.3 L135 2405.9 L136 2405.4 L137 2405 L138 2404.5 L139 2404.1 L140 2403.7 L141 2403.3 L142 2403 L143 2402.7 L144 2402.5 L145 2402.3 L146 2402.1 L147 2402 L147.8 2402 L148 2402 L149 2402.1 L150 2402.3 L151 2402.6 L152 2403 L153 2403.5 L154 2404 L155 2404.5 L156 2405.1 L157 2405.6 L158 2406.1 L159 2406.6 L160 2406.9 L161 2407.2 L162 2407.4 L163 2407.5 L164 2407.5 L165 2407.3 L166 2407.2 L167 2407 L168 2406.7 L169 2406.5 L170 2406.2 L171 2405.9 L172 2405.4 L173 2404.9 L174 2404.4 L175 2403.9 L176 2403.3 L177 2402.8 L178 2402.3 L179 2401.9 L180 2401.5 L181 2401.2 L182 2401 L182.8 2401 L183 2401 L184 2401.1 L185 2401.4 L186 2401.8 L187 2402.4 L188 2403 L189 2403.7 L190 2404.4 L191 2405.1 L192 2405.8 L193 2406.5 L194 2407.3 L195 2408.2 L196 2409.2 L197 2410.1 L198 2410.8 L199 2411 L200 2411 L201 2411 L202 2411 L203 2411 L204 2411 L205 2411 L206 2410.9 L207 2410.9 L208 2410.9 L209 2410.9 L210 2410.9 L211 2410.9 L212 2410.8 L213 2410.8 L214 2410.8 L215 2410.8 L216 2410.7 L217 2410.7 L218 2410.7 L219 2410.6 L220 2410.6 L221 2410.6 L222 2410.5 L223 2410.5 L224 2410.5 L225 2410.4 L226 2410.4 L227 2410.3 L228 2410.3 L229 2410.2 L230 2410.1 L231 2410 L232 2410 L233 2409.9 L234 2409.8 L235 2409.7 L236 2409.6 L237 2409.5 L238 2409.4 L239 2409.2 L240 2409.1 L241 2409 L242 2408.9 L243 2408.7 L244 2408.6 L245 2408.5 L246 2408.3 L247 2408.2 L248 2408 L249 2407.8 L250 2407.6 L251 2407.3 L252 2407.1 L253 2406.8 L254 2406.5 L255 2406.1 L256 2405.8 L257 2405.5 L258 2405.3 L259 2405 L260 2404.7 L261 2404.4 L262 2404.2 L263 2403.9 L264 2403.7 L265 2403.5 L265.8 2403.5 L266 2403.5 L267 2403.7 L268 2404.1 L269 2404.5 L270 2405 L271 2405.4 L272 2405.5 L273 2405.3 L274 2404.9 L275 2404.2 L276 2403.4 L277 2402.5 L278 2401.4 L279 2399.8 L280 2397.8 L281 2395.5 L282 2392.6 L283 2388.8 L284 2384.1 L285 2378.5 L286 2370.9 L287 2360.8 L288 2349 L289 2336.5 L290 2322.9 L291 2307.6 L292 2290.6 L292.5 2281.5 L293 2271.4 L294 2248.3 L295 2226.5 L296 2207.7 L297 2190.5 L298 2176.5 L299 2165.5 L300 2156.7 L300.5 2153.5 L301 2150.7 L302 2146 L302.6 2145 L303 2145.5 L304 2149.6 L304.7 2153.5 L305 2155.2 L306 2162 L307 2171 L307.5 2176.5 L308 2183.9 L309 2204.6 L310 2226.5 L311 2245.7 L312 2264.8 L312.8 2281.5 L313 2286.1 L314 2311.4 L315 2336.5 L316 2360.6 L317 2378.5 L318 2387.3 L319 2393.3 L319.5 2395.5 L320 2397.3 L321 2400.5 L322 2402.9 L323 2404.5 L324 2405.5 L325 2406.4 L326 2407.1 L327 2407.7 L328 2408.1 L329 2408.5 L330 2408.8 L331 2409.1 L332 2409.4 L333 2409.6 L334 2409.9 L335 2410.1 L336 2410.3 L337 2410.5 L338 2410.6 L339 2410.8 L340 2410.9 L341 2410.9 L342 2411 L343 2411 L344 2411 L345 2411 L346 2411 L347 2411 L348 2411 L349 2411 L350 2411 L351 2411 L352 2411 L353 2411 L354 2411 L355 2411 L356 2411 L357 2411 L358 2411 L359 2411 L360 2411 L361 2411 L362 2411 L363 2411 L364 2411 L365 2411 L366 2411 L367 2411 L368 2411 L369 2411 L370 2411 L371 2411 L372 2411 L373 2411 L374 2411 L375 2411 L376 2411 L377 2411 L378 2411 L379 2411 L380 2411 L381 2411 L382 2411 L383 2411 L384 2411 L385 2411 L386 2411 L387 2411 L388 2411 L389 2411 L390 2411 L391 2411 L392 2411 L393 2411 L394 2411 L395 2411 L396 2411 L397 2411 L398 2411 L399 2411 L400 2411 L401 2411 L402 2411 L403 2411 L404 2411 L405 2411 L406 2411 L407 2411 L408 2411 L409 2411 L410 2411 L411 2411 L412 2411 L413 2411 L414 2411 L415 2411 L416 2411 L417 2411 L418 2411 L419 2411 L420 2411 L421 2411 L422 2411 L423 2411 L424 2411 L425 2411 L426 2411 L427 2411 L428 2411 L429 2411 L430 2411 L431 2411 L432 2411 L433 2411 L434 2411 L435 2411 L436 2411 L437 2411 L438 2411 L439 2411 L440 2411 L441 2411 L442 2411 L443 2411 L444 2411 L445 2411 L446 2411 L447 2411 L448 2411 L449 2411 L450 2411 L451 2411 L452 2411 L453 2411 L454 2411 L455 2411 L456 2411 L457 2411 L458 2411 L459 2411 L460 2411 L461 2411 L462 2411 L463 2411 L464 2411 L465 2411 L466 2411 L467 2411 L468 2411 L469 2411 L470 2411 L471 2411 L472 2411 L473 2411 L474 2411 L475 2411 L476 2411 L477 2411 L478 2411 L479 2411 L480 2411 L481 2411 L482 2411 L483 2411 L484 2411 L485 2410.9 L486 2410.9 L487 2410.8 L488 2410.6 L489 2410.5 L490 2410.3 L491 2410.2 L492 2410 L493 2409.8 L494 2409.7 L495 2409.5 L496 2409.3 L497 2409.1 L498 2408.9 L499 2408.6 L500 2408.3 L501 2408 L502 2407.7 L503 2407.4 L504 2407.2 L505 2406.9 L506 2406.6 L507 2406.4 L508 2406.3 L509 2406.1 L510 2406 L511 2406 L512 2406 L513 2406.1 L514 2406.3 L515 2406.5 L516 2406.7 L517 2407 L518 2407.3 L519 2407.6 L520 2407.9 L521 2408.2 L522 2408.5 L523 2408.8 L524 2409.1 L525 2409.3 L526 2409.5 L527 2409.7 L528 2409.8 L529 2410 L530 2410.2 L531 2410.3 L532 2410.5 L533 2410.6 L534 2410.8 L535 2410.9 L536 2410.9 L537 2411 L538 2411 L539 2411 L540 2411 L541 2411 L542 2411 L543 2411 L544 2411 L545 2411 L546 2411 L547 2411 L548 2411 L549 2411 L550 2411 L551 2411 L552 2411 L553 2411 L554 2411 L555 2411 L556 2411 L557 2411 L558 2411 L559 2411 L560 2411 L561 2411 L562 2411 L563 2411 L564 2411 L565 2411 L566 2411 L567 2411 L568 2411 L569 2410.9 L570 2410.8 L571 2410.5 L572 2410.1 L573 2409.5 L574 2407.1 L575 2403 L576 2398.8 L577 2393.9 L578 2388.5 L579 2383.1 L580 2377.3 L581 2369.9 L581.4 2366.1 L582 2358 L583 2338.1 L584 2315.2 L584.2 2310.8 L585 2291.4 L586 2266.5 L586.5 2256.5 L587 2248.7 L588 2236.1 L589 2224 L589.4 2218.5 L590 2208.5 L591 2189.1 L592 2172.1 L592.5 2166.5 L593 2162.3 L594 2154.6 L595 2148.8 L596 2146 L596.2 2145.9 L597 2147 L598 2151.3 L599 2158 L600 2166.5 L601 2184.9 L602 2211.3 L602.3 2218.5 L603 2233.1 L604 2256.5 L605 2296.8 L605.4 2310.8 L606 2326.2 L607 2347.6 L608 2363.6 L608.2 2366.1 L609 2374.9 L610 2383.7 L611 2390.5 L612 2396.2 L613 2400.9 L613.7 2403 L614 2403.7 L615 2405.6 L616 2407.1 L617 2408.1 L617.5 2408.5 L618 2408.8 L619 2409.3 L620 2409.8 L621 2410.2 L622 2410.5 L623 2410.8 L624 2410.9 L625 2411 L626 2411 L627 2411 L628 2411 L629 2411 L630 2411 L631 2411 L632 2411 L633 2411 L634 2411 L635 2411 L636 2411 L637 2411 L638 2411 L639 2411 L640 2411 L641 2411 L642 2411 L643 2411 L644 2411 L645 2411 L646 2411 L647 2411 L648 2411 L649 2411 L650 2411 L651 2411 L652 2411 L653 2411 L654 2411 L655 2411" fill="none" stroke="#000" stroke-width="3.3" stroke-linejoin="round"/>
<path d="M282 2411 L283 2411 L284 2410.8 L285 2410.6 L286 2410.3 L287 2410 L288 2409.6 L288.2 2409.5 L289 2408.8 L290 2407.2 L291 2405.2 L292 2403 L293 2400.4 L294 2397.2 L295 2394.2 L296 2392 L297 2390.5 L298 2389 L299 2387.9 L300 2387.1 L300.8 2386.9 L301 2386.9 L302 2387.4 L303 2388.4 L304 2389.7 L305 2391.2 L305.5 2392 L306 2393 L307 2395.6 L308 2398.6 L309 2401 L310 2402.9 L311 2404.7 L312 2406.1 L313 2407 L314 2407.5 L315 2407.9 L316 2408.2 L317 2408.4 L318 2408.5 L319 2408.5 L320 2408.4 L321 2408.4 L322 2408.3 L323 2408.2 L324 2408 L325 2407.9 L326 2407.8 L327 2407.7 L328 2407.6 L329 2407.5 L330 2407.5 L331 2407.5 L332 2407.5 L333 2407.4 L334 2407.4 L335 2407.4 L336 2407.4 L337 2407.4 L338 2407.3 L339 2407.3 L340 2407.3 L341 2407.3 L342 2407.3 L343 2407.3 L344 2407.3 L345 2407.3 L346 2407.2 L347 2407.2 L348 2407.2 L349 2407.2 L350 2407.2 L351 2407.2 L352 2407.2 L353 2407.2 L354 2407.2 L355 2407.2 L356 2407.2 L357 2407.3 L358 2407.5 L359 2407.7 L360 2408 L361 2408.2 L362 2408.5 L363 2408.8 L364 2409.1 L365 2409.3 L366 2409.5 L367 2409.7 L368 2409.9 L369 2410 L370 2410.2 L371 2410.4 L372 2410.6 L373 2410.7 L374 2410.9 L375 2411 L376 2411.2 L377 2411.4 L378 2411.5" fill="none" stroke="#1b8fd2" stroke-width="3.3" stroke-linejoin="round"/>
<path d="M555 2411.5 L556 2411.5 L557 2411.5 L558 2411.4 L559 2411.4 L560 2411.3 L561 2411.3 L562 2411.2 L563 2411.1 L564 2411 L565 2410.9 L566 2410.8 L567 2410.7 L568 2410.6 L569 2410.4 L570 2410.3 L571 2410.1 L572 2410 L573 2409.8 L574 2409.5 L575 2409.2 L576 2408.7 L577 2408.3 L578 2407.8 L579 2407.2 L580 2406.7 L581 2406.2 L582 2405.7 L583 2405.2 L584 2404.8 L585 2404.5 L586 2404.2 L587 2403.9 L588 2403.6 L589 2403.2 L590 2402.9 L591 2402.6 L592 2402.3 L593 2402.1 L594 2401.9 L595 2401.7 L596 2401.5 L597 2401.4 L598 2401.3 L598.7 2401.3 L599 2401.3 L600 2401.3 L601 2401.4 L602 2401.6 L603 2401.7 L604 2401.9 L605 2402.1 L606 2402.4 L607 2402.6 L608 2402.9 L609 2403.2 L610 2403.5 L611 2403.7 L612 2404 L613 2404.3 L614 2404.6 L615 2404.9 L616 2405.3 L617 2405.6 L618 2406 L619 2406.4 L620 2406.8 L621 2407.1 L622 2407.4 L623 2407.7 L624 2408 L625 2408.2 L626 2408.5 L627 2408.7 L628 2409 L629 2409.2 L630 2409.4 L631 2409.6 L632 2409.8 L633 2410 L634 2410.2 L635 2410.4 L636 2410.5 L637 2410.7 L638 2410.8 L639 2410.9 L640 2411 L641 2411.1 L642 2411.2 L643 2411.3 L644 2411.3 L645 2411.4 L646 2411.5 L647 2411.6 L648 2411.6 L649 2411.7 L650 2411.8 L651 2411.8 L652 2411.9 L653 2411.9 L654 2411.9 L655 2412 L656 2412 L657 2412 L658 2412" fill="none" stroke="#1b8fd2" stroke-width="3.3" stroke-linejoin="round"/>
<path d="M841 2411 L842 2411 L843 2411 L844 2411 L845 2411 L846 2411 L847 2411 L848 2411 L849 2411 L850 2411 L851 2411 L852 2411 L853 2411 L854 2411 L855 2411 L856 2411 L857 2411 L858 2411 L859 2411 L860 2411 L861 2411 L862 2411 L863 2411 L864 2410.9 L865 2410.7 L866 2410.3 L867 2409.9 L868 2409.3 L869 2408.7 L870 2408.1 L871 2407.6 L872 2407 L873 2406.5 L874 2406 L875 2405.4 L876 2404.8 L877 2404.2 L878 2403.6 L879 2403 L880 2402.5 L881 2402.1 L882 2401.8 L883 2401.6 L883.8 2401.5 L884 2401.5 L885 2401.6 L886 2401.9 L887 2402.2 L888 2402.7 L889 2403.2 L890 2403.8 L891 2404.4 L892 2405 L893 2405.6 L894 2406.1 L895 2406.5 L896 2406.9 L897 2407.3 L898 2407.8 L899 2408.3 L900 2408.7 L901 2409.2 L902 2409.6 L903 2410 L904 2410.3 L905 2410.6 L906 2410.8 L907 2411 L908 2411 L909 2411 L910 2410.8 L911 2410.6 L912 2410.4 L913 2410.1 L914 2409.8 L915 2409.5 L916 2409.1 L917 2408.8 L918 2408.5 L919 2408.2 L920 2407.8 L921 2407.4 L922 2406.9 L923 2406.5 L924 2406 L925 2405.6 L926 2405.2 L927 2404.9 L928 2404.7 L929 2404.5 L929.8 2404.5 L930 2404.5 L931 2404.5 L932 2404.5 L933 2404.5 L934 2404.5 L935 2404.5 L936 2404.5 L937 2404.5 L938 2404.5 L939 2404.4 L940 2404.1 L941 2403.6 L942 2402.9 L943 2402.2 L944 2401.4 L945 2400.6 L946 2399.8 L947 2399.1 L948 2398.4 L949 2397.9 L950 2397.6 L951 2397.5 L952 2397.6 L953 2397.9 L954 2398.3 L955 2398.8 L956 2399.4 L957 2400 L958 2400.6 L959 2401.2 L960 2401.7 L961 2402.1 L962 2402.4 L963 2402.5 L964 2402.4 L965 2402.2 L966 2401.8 L967 2401.4 L968 2400.9 L969 2400.4 L970 2400 L971 2399.5 L972 2399 L973 2398.5 L974 2397.8 L975 2397.2 L976 2396.5 L977 2395.9 L978 2395.3 L979 2394.9 L980 2394.5 L981 2394.3 L981.8 2394.2 L982 2394.2 L983 2394.3 L984 2394.6 L985 2395 L986 2395.4 L987 2395.8 L988 2396.2 L989 2396.4 L990 2396.5 L991 2396.3 L992 2395.9 L993 2395.2 L994 2394.2 L995 2392.9 L996 2391.5 L997 2388.3 L998 2382.6 L999 2375 L1000 2366.5 L1001 2355.2 L1002 2340.8 L1003 2326.5 L1004 2313.2 L1005 2300 L1006 2287.4 L1006.5 2281.5 L1007 2275.3 L1008 2261.9 L1009 2251.5 L1009.7 2248.9 L1010 2249.4 L1011 2256.4 L1012 2268.5 L1013 2281.5 L1014 2295.6 L1015 2311.7 L1016 2326.5 L1017 2339.4 L1018 2351.5 L1019 2362 L1019.5 2366.5 L1020 2370.7 L1021 2378.7 L1022 2385.3 L1023 2389.5 L1024 2392.1 L1025 2394.3 L1026 2396.2 L1027 2397.7 L1028 2398.6 L1029 2398.9 L1030 2398.6 L1031 2397.7 L1032 2396.3 L1033 2394.6 L1034 2392.6 L1035 2390.5 L1036 2387.3 L1037 2382.8 L1038 2378.1 L1039 2374.5 L1040 2371.7 L1041 2369 L1042 2366.9 L1043 2365.8 L1043.2 2365.8 L1044 2366.1 L1045 2367.3 L1046 2369 L1047 2370.7 L1048 2372 L1049 2372.5 L1050 2372.4 L1051 2372.1 L1052 2371.7 L1053 2371.3 L1054 2370.9 L1055 2370.6 L1056 2370.5 L1056.2 2370.5 L1057 2371 L1058 2373 L1059 2375.8 L1060 2379 L1061 2382.1 L1062 2384.5 L1063 2386.4 L1064 2388.3 L1065 2390.2 L1066 2391.9 L1067 2393.4 L1068 2394.6 L1069 2395.5 L1070 2396.2 L1071 2396.9 L1072 2397.5 L1073 2398 L1074 2398.5 L1075 2398.8 L1076 2398.9 L1076.3 2398.9 L1077 2398.8 L1078 2398.1 L1079 2396.9 L1080 2395.2 L1081 2393 L1082 2390.5 L1083 2385.3 L1084 2375.8 L1085 2363.4 L1085.5 2356.5 L1086 2347.9 L1087 2324.2 L1088 2296.5 L1089 2265 L1090 2229.7 L1091 2196.5 L1092 2165.7 L1093 2137.7 L1093.5 2126.5 L1094 2116.2 L1095 2098.2 L1095.6 2094.2 L1096 2095.9 L1097 2110.8 L1097.8 2126.5 L1098 2130.4 L1099 2154.5 L1100 2182.6 L1100.5 2196.5 L1101 2210.7 L1102 2241.3 L1103 2271.3 L1104 2296.5 L1105 2317.3 L1106 2336 L1107 2350.9 L1107.5 2356.5 L1108 2361.3 L1109 2370 L1110 2377.3 L1111 2382.9 L1112 2386.5 L1113 2388.9 L1114 2391.1 L1115 2393 L1116 2394.5 L1117 2395.7 L1118 2396.3 L1118.8 2396.5 L1119 2396.5 L1120 2395 L1121 2392.3 L1122 2389.2 L1123 2386.5 L1124 2384.2 L1125 2381.6 L1126 2379.1 L1127 2376.8 L1128 2375.1 L1129 2374.2 L1129.4 2374.1 L1130 2374.3 L1131 2375.4 L1132 2377.3 L1133 2379.7 L1134 2382.1 L1135 2384.5 L1136 2387.1 L1137 2390.2 L1138 2393.5 L1139 2396.6 L1140 2399 L1141 2400.5 L1142 2401.3 L1143 2402 L1144 2402.6 L1145 2403.1 L1146 2403.4 L1147 2403.5 L1148 2403.3 L1149 2402.7 L1150 2401.9 L1151 2400.9 L1152 2399.8 L1153 2398.7 L1154 2397.8 L1155 2397 L1156 2396.6 L1156.6 2396.5 L1157 2396.6 L1158 2397.4 L1159 2398.9 L1160 2400.8 L1161 2402.9 L1162 2404.9 L1163 2406.5 L1164 2407.5 L1165 2408.1 L1166 2408.7 L1167 2409.2 L1168 2409.7 L1169 2410.2 L1170 2410.5 L1171 2410.8 L1172 2410.9 L1173 2411 L1174 2411 L1175 2410.9 L1176 2410.8 L1177 2410.7 L1178 2410.6 L1179 2410.4 L1180 2410.2 L1181 2410 L1182 2409.8 L1183 2409.6 L1184 2409.4 L1185 2409.1 L1186 2408.9 L1187 2408.7 L1188 2408.5 L1189 2408.3 L1190 2408 L1191 2407.7 L1192 2407.5 L1193 2407.1 L1194 2406.8 L1195 2406.5 L1196 2406.3 L1197 2406 L1198 2405.8 L1199 2405.6 L1200 2405.5 L1201 2405.5 L1202 2405.5 L1203 2405.7 L1204 2405.9 L1205 2406.2 L1206 2406.5 L1207 2406.8 L1208 2407.2 L1209 2407.6 L1210 2408 L1211 2408.4 L1212 2408.7 L1213 2409 L1214 2409.3 L1215 2409.5 L1216 2409.7 L1217 2409.8 L1218 2410 L1219 2410.2 L1220 2410.3 L1221 2410.4 L1222 2410.6 L1223 2410.7 L1224 2410.8 L1225 2410.9 L1226 2410.9 L1227 2411 L1228 2411 L1229 2411 L1230 2411 L1231 2411 L1232 2411 L1233 2411 L1234 2411 L1235 2411 L1236 2411 L1237 2411 L1238 2411 L1239 2411 L1240 2411 L1241 2411 L1242 2411 L1243 2411 L1244 2411 L1245 2411 L1246 2411 L1247 2411 L1248 2411 L1249 2411 L1250 2411 L1251 2411 L1252 2411 L1253 2411 L1254 2411 L1255 2411 L1256 2411 L1257 2411 L1258 2411 L1259 2411 L1260 2411 L1261 2411 L1262 2411 L1263 2411 L1264 2411 L1265 2411 L1266 2411 L1267 2411 L1268 2411 L1269 2411 L1270 2411 L1271 2411 L1272 2411 L1273 2411 L1274 2411 L1275 2411 L1276 2411 L1277 2411 L1278 2411 L1279 2411 L1280 2411 L1281 2411 L1282 2411 L1283 2411 L1284 2411 L1285 2411 L1286 2411 L1287 2411 L1288 2411 L1289 2411 L1290 2411 L1291 2411 L1292 2411 L1293 2411 L1294 2411 L1295 2411 L1296 2411 L1297 2411 L1298 2411 L1299 2411 L1300 2411 L1301 2411 L1302 2411 L1303 2411 L1304 2411 L1305 2411 L1306 2411 L1307 2411 L1308 2411 L1309 2411 L1310 2411 L1311 2411 L1312 2411 L1313 2411 L1314 2411 L1315 2411 L1316 2411 L1317 2411 L1318 2411 L1319 2411 L1320 2411 L1321 2411 L1322 2411 L1323 2411 L1324 2411 L1325 2411 L1326 2411 L1327 2411 L1328 2411 L1329 2411 L1330 2411 L1331 2411 L1332 2411 L1333 2411 L1334 2411 L1335 2411 L1336 2411 L1337 2411 L1338 2411 L1339 2411 L1340 2411 L1341 2411 L1342 2411 L1343 2411 L1344 2411 L1345 2411 L1346 2411 L1347 2411 L1348 2411 L1349 2411 L1350 2411 L1351 2411 L1352 2411 L1353 2411 L1354 2411 L1355 2411 L1356 2411 L1357 2411 L1358 2411 L1359 2411 L1360 2411 L1361 2411 L1362 2411 L1363 2411 L1364 2411 L1365 2411 L1366 2411 L1367 2411 L1368 2411 L1369 2411 L1370 2411 L1371 2411 L1372 2411 L1373 2411 L1374 2411 L1375 2411 L1376 2411 L1377 2411 L1378 2411 L1379 2411 L1380 2410.9 L1381 2410.9 L1382 2410.8 L1383 2410.7 L1384 2410.5 L1385 2410.4 L1386 2410.3 L1387 2410.1 L1388 2410 L1389 2409.9 L1390 2409.7 L1391 2409.6 L1392 2409.6 L1393 2409.5 L1394 2409.5 L1395 2409.4 L1396 2409.4 L1397 2409.4 L1398 2409.3 L1399 2409.3 L1400 2409.3 L1401 2409.2 L1402 2409.2 L1403 2409.2 L1404 2409.2 L1405 2409.2 L1406 2409.2 L1407 2409.1 L1408 2409.1 L1409 2409.1 L1410 2409.1 L1411 2409.1 L1412 2409.1 L1413 2409.1 L1414 2409.1 L1415 2409 L1416 2409 L1417 2409 L1418 2409 L1419 2409 L1420 2409 L1421 2408.9 L1422 2408.9 L1423 2408.9 L1424 2408.9 L1425 2408.8 L1426 2408.8 L1427 2408.8 L1428 2408.7 L1429 2408.7 L1430 2408.7 L1431 2408.6 L1432 2408.6 L1433 2408.5 L1434 2408.3 L1435 2407.9 L1436 2407.3 L1437 2406.6 L1438 2405.9 L1439 2405.1 L1440 2404.5 L1441 2403.9 L1442 2403.6 L1442.8 2403.5 L1443 2403.5 L1444 2403.7 L1445 2404.1 L1446 2404.7 L1447 2405.3 L1448 2406.1 L1449 2406.8 L1450 2407.5 L1451 2408 L1452 2408.4 L1453 2408.5 L1454 2408.5 L1455 2408.5 L1456 2408.4 L1457 2408.4 L1458 2408.3 L1459 2408.2 L1460 2408.1 L1461 2408 L1462 2407.9 L1463 2407.7 L1464 2407.6 L1465 2407.5 L1466 2407.4 L1467 2407.3 L1468 2407.1 L1469 2407 L1470 2406.9 L1471 2406.8 L1472 2406.7 L1473 2406.6 L1474 2406.6 L1475 2406.5 L1476 2406.5 L1477 2406.5 L1478 2406.5 L1479 2406.6 L1480 2406.8 L1481 2407 L1482 2407.3 L1483 2407.6 L1484 2407.9 L1485 2408.2 L1486 2408.6 L1487 2408.9 L1488 2409.3 L1489 2409.6 L1490 2409.9 L1491 2410.1 L1492 2410.3 L1493 2410.5 L1494 2410.6 L1495 2410.8 L1496 2410.9 L1497 2411 L1498 2411.1 L1499 2411.2 L1500 2411.3 L1501 2411.4 L1502 2411.5 L1503 2411.5 L1504 2411.5 L1505 2411.5 L1506 2411.5 L1507 2411.4 L1508 2411.4 L1509 2411.3 L1510 2411.2 L1511 2411.1 L1512 2411 L1513 2410.9 L1514 2410.7 L1515 2410.6 L1516 2410.4 L1517 2410.3 L1518 2410.1 L1519 2410 L1520 2409.8 L1521 2409.6 L1522 2409.5 L1523 2409.3 L1524 2409.1 L1525 2409 L1526 2408.8 L1527 2408.6 L1528 2408.5 L1529 2408.3 L1530 2408.2 L1531 2408 L1532 2407.8 L1533 2407.6 L1534 2407.4 L1535 2407.2 L1536 2406.9 L1537 2406.7 L1538 2406.5 L1539 2406.2 L1540 2406 L1541 2405.7 L1542 2405.5 L1543 2405.3 L1544 2405 L1545 2404.8 L1546 2404.6 L1547 2404.4 L1548 2404.2 L1549 2404 L1550 2403.8 L1551 2403.7 L1552 2403.5 L1553 2403.4 L1554 2403.3 L1555 2403.2 L1556 2403.1 L1557 2403 L1558 2403 L1558.7 2403 L1559 2403 L1560 2403 L1561 2403 L1562 2403.1 L1563 2403.1 L1564 2403.1 L1565 2403.2 L1566 2403.2 L1567 2403.3 L1568 2403.3 L1569 2403.4 L1570 2403.4 L1571 2403.5 L1572 2403.6 L1573 2403.6 L1574 2403.7 L1575 2403.7 L1576 2403.8 L1577 2403.8 L1578 2403.9 L1579 2403.9 L1580 2404 L1581 2404 L1582 2404 L1583 2404 L1584 2404 L1585 2403.9 L1586 2403.7 L1587 2403.5 L1588 2403.2 L1589 2402.9 L1590 2402.5 L1591 2402.1 L1592 2401.7 L1593 2401.3 L1594 2400.9 L1595 2400.4 L1596 2400 L1597 2399.6 L1598 2399.2 L1599 2398.8 L1600 2398.5 L1601 2398.2 L1602 2398 L1603 2397.8 L1604 2397.7 L1605 2397.5 L1606 2397.4 L1607 2397.4 L1608 2397.3 L1609 2397.2 L1610 2397.1 L1611 2397.1 L1612 2397 L1613 2396.9 L1614 2396.8 L1615 2396.7 L1616 2396.6 L1617 2396.5 L1618 2396.3 L1618.8 2396.1 L1619 2396 L1620 2395.5 L1621 2394.7 L1622 2393.5 L1623 2392.1 L1624 2390.5 L1625 2388.7 L1626 2386.2 L1627 2382.3 L1628 2376.5 L1629 2352.4 L1629.5 2336.5 L1630 2322.1 L1631 2291.1 L1632 2255.1 L1633 2216.1 L1633.5 2196.5 L1634 2175.7 L1635 2131.5 L1636 2096.5 L1637 2071.1 L1638 2049 L1639 2035.4 L1639.5 2033.5 L1640 2037.6 L1641 2062 L1641.5 2076.5 L1642 2093 L1643 2135.5 L1644 2176.5 L1645 2209.7 L1646 2238.9 L1646.3 2246.5 L1647 2262.6 L1648 2282.6 L1648.5 2291.1 L1649 2299.1 L1650 2314.1 L1651 2327 L1652 2336.5 L1653 2343.5 L1654 2349.7 L1655 2354.9 L1656 2359.5 L1657 2363.3 L1658 2366.5 L1659 2369.3 L1660 2371.8 L1661 2374.2 L1662 2376.3 L1663 2378.1 L1664 2379.8 L1665 2381.2 L1666 2382.5 L1667 2383.7 L1668 2384.8 L1669 2385.9 L1670 2387 L1671 2387.9 L1672 2388.7 L1673 2389.4 L1674 2389.9 L1675 2390.2 L1675.6 2390.2 L1676 2390.2 L1677 2390.1 L1678 2389.8 L1679 2389.5 L1680 2389.1 L1681 2388.6 L1682 2388.1 L1683 2387.5 L1684 2387 L1685 2386.5 L1686 2385.9 L1687 2385.2 L1688 2384.4 L1689 2383.6 L1690 2382.8 L1691 2382.1 L1692 2381.6 L1693 2381.3 L1693.5 2381.3 L1694 2381.4 L1695 2381.9 L1696 2382.8 L1697 2383.9 L1698 2385 L1699 2386.1 L1700 2387 L1701 2387.5 L1701.4 2387.5 L1702 2387.4 L1703 2387 L1704 2386.3 L1705 2385.5 L1706 2384.8 L1707 2384.5 L1708 2384.4 L1709 2384.3 L1710 2384.2 L1711 2384.1 L1712 2384 L1713 2384 L1713.4 2384 L1714 2384.1 L1715 2384.5 L1716 2385.2 L1717 2386.2 L1718 2387.3 L1719 2388.4 L1720 2389.6 L1721 2390.8 L1722 2391.7 L1723 2392.5 L1724 2393.1 L1725 2393.8 L1726 2394.4 L1727 2395.1 L1728 2395.7 L1729 2396.3 L1730 2397 L1731 2397.6 L1732 2398.2 L1733 2398.7 L1734 2399.3 L1735 2399.8 L1736 2400.3 L1737 2400.8 L1738 2401.2 L1739 2401.6 L1740 2402 L1741 2402.3 L1742 2402.5 L1743 2402.7 L1744 2402.9 L1745 2403 L1746 2403 L1747 2403 L1748 2402.9 L1749 2402.8 L1750 2402.6 L1751 2402.4 L1752 2402.2 L1753 2402 L1754 2401.7 L1755 2401.4 L1756 2401 L1757 2400.7 L1758 2400.3 L1759 2400 L1760 2399.6 L1761 2399.2 L1762 2398.8 L1763 2398.4 L1764 2398 L1765 2397.6 L1766 2397.2 L1767 2396.9 L1768 2396.5 L1769 2396.2 L1770 2395.9 L1771 2395.6 L1772 2395.3 L1773 2395 L1774 2394.7 L1775 2394.4 L1776 2394 L1777 2393.7 L1778 2393.2 L1779 2392.8 L1780 2392.2 L1781 2391.6 L1782 2390.9 L1783 2389.9 L1784 2388.6 L1785 2386.7 L1786 2384.4 L1787 2381.7 L1788 2378.5 L1789 2373.6 L1790 2366.1 L1791 2356.9 L1792 2346.5 L1793 2334.7 L1794 2320.2 L1795 2301.9 L1795.5 2291.1 L1796 2277.1 L1797 2238.4 L1798 2196.5 L1799 2156.2 L1800 2115.5 L1801 2076.3 L1802 2037.3 L1803 1996.5 L1804 1943 L1805 1883.6 L1806 1842.3 L1806.5 1836 L1807 1841.7 L1808 1878 L1809 1926 L1809.5 1946.5 L1810 1964.2 L1811 1999.6 L1812 2034.5 L1813 2068.3 L1814 2100.3 L1814.5 2115.5 L1815 2130.5 L1816 2159.8 L1817 2185.8 L1817.5 2196.5 L1818 2205.9 L1819 2222.8 L1820 2237.4 L1821 2250.4 L1821.5 2256.5 L1822 2262.2 L1823 2272.7 L1824 2282.2 L1825 2291.1 L1826 2299.7 L1827 2307.8 L1828 2315.5 L1829 2322.9 L1829.5 2326.5 L1830 2330.1 L1831 2337.2 L1832 2344.2 L1833 2350.8 L1834 2356.7 L1835 2361.5 L1836 2365.5 L1837 2369.1 L1838 2372.2 L1839 2375 L1840 2377.5 L1841 2379.8 L1842 2382 L1843 2384.1 L1844 2386.1 L1845 2388 L1846 2389.6 L1847 2391.1 L1848 2392.4 L1849 2393.5 L1850 2394.4 L1851 2395.4 L1852 2396.2 L1853 2397 L1854 2397.8 L1855 2398.5 L1856 2399.1 L1857 2399.7 L1858 2400.2 L1859 2400.6 L1860 2401 L1861 2401.2 L1862 2401.4 L1863 2401.6 L1864 2401.7 L1865 2401.9 L1866 2402.1 L1867 2402.2 L1868 2402.4 L1869 2402.5 L1870 2402.6 L1871 2402.7 L1872 2402.8 L1873 2403 L1874 2403.1 L1875 2403.1 L1876 2403.2 L1877 2403.3 L1878 2403.4 L1879 2403.5 L1880 2403.6 L1881 2403.6 L1882 2403.7 L1883 2403.8 L1884 2403.9 L1885 2403.9 L1886 2404 L1887 2404.1 L1888 2404.1 L1889 2404.2 L1890 2404.3 L1891 2404.3 L1892 2404.4 L1893 2404.5 L1894 2404.6 L1895 2404.6 L1895.6 2404.7 L1896 2404.7 L1897 2404.8 L1898 2404.9 L1899 2405 L1900 2405.1 L1901 2405.1 L1902 2405.2 L1903 2405.3 L1904 2405.4 L1905 2405.5 L1906 2405.5 L1907 2405.6 L1908 2405.7 L1909 2405.8 L1910 2405.8 L1911 2405.9 L1912 2406 L1913 2406.1 L1914 2406.1 L1915 2406.2 L1916 2406.3 L1917 2406.3 L1918 2406.4 L1919 2406.5 L1920 2406.6 L1921 2406.6 L1922 2406.7 L1923 2406.8 L1924 2406.8 L1925 2406.9 L1926 2407 L1927 2407.1 L1928 2407.1 L1929 2407.2 L1930 2407.3 L1931 2407.4 L1932 2407.4 L1933 2407.5 L1934 2407.6 L1935 2407.7 L1936 2407.7 L1937 2407.8 L1938 2407.9 L1939 2408 L1940 2408.1 L1941 2408.2 L1942 2408.3 L1943 2408.4 L1944 2408.5 L1945 2408.6 L1946 2408.7 L1947 2408.8 L1948 2408.9 L1949 2409 L1950 2409.1 L1951 2409.2 L1952 2409.2 L1953 2409.3 L1954 2409.4 L1955 2409.5 L1956 2409.5 L1957 2409.6 L1958 2409.6 L1959 2409.7 L1960 2409.7 L1961 2409.8 L1962 2409.8 L1963 2409.8 L1964 2409.8 L1965 2409.7 L1966 2409.3 L1967 2408.7 L1968 2408 L1969 2407.3 L1970 2406.6 L1971 2406 L1972 2405.6 L1973 2405.5 L1974 2405.5 L1975 2405.7 L1976 2405.9 L1977 2406.2 L1978 2406.5 L1979 2406.8 L1980 2407.2 L1981 2407.5 L1982 2407.9 L1983 2408.2 L1984 2408.4 L1985 2408.6 L1986 2408.8 L1986.8 2408.8 L1987 2408.8 L1988 2408.6 L1989 2408.3 L1990 2407.8 L1991 2407.2 L1992 2406.6 L1993 2406 L1994 2405.4 L1995 2404.9 L1996 2404.6 L1997 2404.5 L1998 2404.5 L1999 2404.6 L2000 2404.8 L2001 2405 L2002 2405.2 L2003 2405.5 L2004 2405.8 L2005 2406.1 L2006 2406.4 L2007 2406.7 L2008 2407.1 L2009 2407.4 L2010 2407.7 L2011 2408 L2012 2408.3 L2013 2408.5 L2014 2408.7 L2015 2408.9 L2016 2409.1 L2017 2409.3 L2018 2409.5 L2019 2409.7 L2020 2409.9 L2021 2410.1 L2022 2410.2 L2023 2410.4 L2024 2410.6 L2025 2410.7 L2026 2410.9" fill="none" stroke="#000" stroke-width="3.3" stroke-linejoin="round"/>
<path d="M1435 2411 L1436 2411 L1437 2411 L1438 2411 L1439 2411 L1440 2411 L1441 2411 L1442 2411 L1443 2410.9 L1444 2410.9 L1445 2410.9 L1446 2410.9 L1447 2410.9 L1448 2410.9 L1449 2410.8 L1450 2410.8 L1451 2410.8 L1452 2410.8 L1453 2410.7 L1454 2410.7 L1455 2410.7 L1456 2410.7 L1457 2410.6 L1458 2410.6 L1459 2410.6 L1460 2410.5 L1461 2410.5 L1462 2410.5 L1463 2410.4 L1464 2410.4 L1465 2410.3 L1466 2410.3 L1467 2410.3 L1468 2410.2 L1469 2410.2 L1470 2410.1 L1471 2410.1 L1472 2410 L1473 2410 L1474 2409.9 L1475 2409.9 L1476 2409.8 L1477 2409.8 L1478 2409.7 L1479 2409.7 L1480 2409.6 L1481 2409.6 L1482 2409.5 L1483 2409.5 L1484 2409.4 L1485 2409.4 L1486 2409.3 L1487 2409.3 L1488 2409.2 L1489 2409.1 L1490 2409.1 L1491 2409 L1492 2409 L1493 2408.9 L1494 2408.9 L1495 2408.8 L1496 2408.7 L1497 2408.7 L1498 2408.6 L1499 2408.6 L1500 2408.5 L1501 2408.4 L1502 2408.4 L1503 2408.3 L1504 2408.2 L1505 2408.2 L1506 2408.1 L1507 2408 L1508 2407.9 L1509 2407.8 L1510 2407.8 L1511 2407.7 L1512 2407.6 L1513 2407.5 L1514 2407.4 L1515 2407.3 L1516 2407.2 L1517 2407.1 L1518 2407 L1519 2406.9 L1520 2406.8 L1521 2406.6 L1522 2406.5 L1523 2406.4 L1524 2406.3 L1525 2406.2 L1526 2406 L1527 2405.9 L1528 2405.8 L1529 2405.6 L1530 2405.5 L1531 2405.4 L1532 2405.2 L1533 2405.1 L1534 2404.9 L1535 2404.8 L1536 2404.6 L1537 2404.5 L1538 2404.3 L1539 2404.2 L1540 2404 L1541 2403.8 L1542 2403.7 L1543 2403.5 L1544 2403.3 L1545 2403.1 L1546 2402.8 L1547 2402.6 L1548 2402.4 L1549 2402.2 L1550 2401.9 L1551 2401.7 L1552 2401.4 L1553 2401.1 L1554 2400.8 L1555 2400.6 L1556 2400.3 L1557 2400 L1558 2399.7 L1559 2399.4 L1560 2399.1 L1561 2398.8 L1562 2398.5 L1563 2398.2 L1564 2397.9 L1565 2397.6 L1566 2397.3 L1567 2396.9 L1568 2396.6 L1569 2396.3 L1570 2396 L1571 2395.7 L1572 2395.4 L1573 2395.1 L1574 2394.8 L1575 2394.5 L1576 2394.2 L1577 2393.9 L1578 2393.6 L1579 2393.3 L1580 2393 L1581 2392.7 L1582 2392.3 L1583 2392 L1584 2391.7 L1585 2391.3 L1586 2391 L1587 2390.6 L1588 2390.3 L1589 2389.9 L1590 2389.5 L1591 2389.1 L1592 2388.7 L1593 2388.2 L1594 2387.8 L1595 2387.3 L1596 2386.8 L1597 2386.3 L1598 2385.7 L1599 2385.2 L1600 2384.6 L1601 2384 L1602 2383.3 L1603 2382.6 L1604 2381.8 L1605 2381 L1606 2380 L1607 2379.1 L1608 2378 L1609 2376.9 L1610 2375.6 L1611 2374.4 L1612 2373 L1613 2371.5 L1614 2369.9 L1614.2 2369.6 L1615 2368.1 L1616 2365.9 L1617 2363.3 L1618 2360.3 L1619 2357.1 L1620 2353.6 L1621 2350 L1622 2346.5 L1623 2343 L1624 2338.8 L1625 2333.4 L1626 2326.3 L1626.2 2324.6 L1627 2312.5 L1628 2286.7 L1629 2255.9 L1629.2 2249.8 L1630 2226.9 L1631 2197.3 L1632 2158 L1633 2100 L1634 1950 L1635 1798.4 L1635.5 1737.8 L1636 1693.6 L1637 1625 L1637.8 1581.7 L1638 1584 L1639 1625 L1640 1657.7 L1641 1688.9 L1642 1720.8 L1642.5 1737.8 L1643 1755 L1644 1788.9 L1645 1824.8 L1646 1866.1 L1646.7 1900 L1647 1918.1 L1648 2000.6 L1649 2080 L1649.4 2100 L1650 2120.8 L1651 2149.6 L1652 2172.4 L1653 2190.8 L1653.9 2204.8 L1654 2206.3 L1655 2220.2 L1656 2233 L1657 2244.8 L1658 2255.5 L1659 2265.3 L1660 2274.1 L1661 2282 L1662 2289.1 L1662.9 2294.7 L1663 2295.3 L1664 2301.1 L1665 2306.7 L1666 2312.1 L1667 2317.2 L1668 2322.1 L1669 2326.8 L1670 2331.2 L1671 2335.3 L1672 2339 L1673 2342.5 L1674 2345.7 L1675 2348.5 L1676 2351 L1677 2353 L1677.9 2354.6 L1678 2354.8 L1679 2356.3 L1680 2357.7 L1681 2359.2 L1682 2360.5 L1683 2361.9 L1684 2363.1 L1685 2364.4 L1686 2365.5 L1687 2366.6 L1688 2367.7 L1689 2368.7 L1690 2369.7 L1691 2370.6 L1692 2371.5 L1693 2372.4 L1694 2373.1 L1695 2373.9 L1696 2374.6 L1697 2375.2 L1698 2375.8 L1699 2376.3 L1700 2376.8 L1701 2377.3 L1702 2377.7 L1703 2378.1 L1704 2378.4 L1704.8 2378.6 L1705 2378.7 L1706 2378.9 L1707 2379.1 L1708 2379.4 L1709 2379.6 L1710 2379.9 L1711 2380.1 L1712 2380.3 L1713 2380.5 L1714 2380.7 L1715 2380.9 L1716 2381.1 L1717 2381.3 L1718 2381.5 L1719 2381.6 L1720 2381.8 L1721 2381.9 L1722 2382.1 L1723 2382.2 L1724 2382.3 L1725 2382.4 L1726 2382.6 L1727 2382.6 L1728 2382.7 L1729 2382.8 L1730 2382.9 L1731 2382.9 L1732 2383 L1733 2383 L1734 2383 L1734.8 2383 L1735 2383 L1736 2383 L1737 2382.9 L1738 2382.8 L1739 2382.7 L1740 2382.6 L1741 2382.4 L1742 2382.2 L1743 2382 L1744 2381.8 L1745 2381.5 L1746 2381.3 L1747 2381 L1748 2380.7 L1749 2380.3 L1750 2380 L1751 2379.6 L1752 2379.2 L1753 2378.8 L1754 2378.4 L1755 2378 L1756 2377.6 L1757 2377.1 L1757.3 2377 L1758 2376.7 L1759 2376.1 L1760 2375.5 L1761 2374.8 L1762 2374.1 L1763 2373.2 L1764 2372.3 L1765 2371.3 L1766 2370.2 L1767 2369 L1768 2367.8 L1769 2366.4 L1770 2365 L1771 2363.5 L1772 2361.9 L1773 2360.3 L1774 2358.5 L1775 2356.7 L1776 2354.8 L1777 2352.8 L1778 2350.7 L1779 2348.6 L1779.7 2347 L1780 2346.3 L1781 2343.9 L1782 2341.3 L1783 2338.2 L1784 2334.7 L1785 2330.6 L1786 2325.7 L1787 2320 L1788 2313.3 L1789 2305.6 L1790 2296.6 L1790.2 2294.7 L1791 2281.6 L1792 2252.6 L1793 2213.5 L1793.2 2204.8 L1794 2149.1 L1794.7 2100 L1795 2087.1 L1796 2058.3 L1797 2029.2 L1797.6 2000 L1798 1949.1 L1799 1690.6 L1800 1494 L1801 1451.6 L1802 1420 L1803 1366.5 L1803.6 1350 L1804 1357.8 L1805 1408.5 L1805.3 1420 L1806 1436.4 L1807 1452.8 L1808 1469.1 L1809 1494 L1810 1557.5 L1811 1646.8 L1811.8 1700 L1812 1708.4 L1813 1745.9 L1814 1776.4 L1815 1801.7 L1816 1823.1 L1817 1842.3 L1818 1860.7 L1819 1880 L1820 1901.6 L1821 1927.1 L1822 1958 L1823 1995.8 L1823.1 2000 L1824 2065.5 L1824.6 2100 L1825 2109.2 L1826 2126.2 L1827 2137.7 L1828 2147.2 L1829 2158.6 L1829.1 2160 L1830 2173.4 L1831 2189.3 L1832 2205.7 L1833 2221.6 L1834 2236.2 L1835 2248.7 L1835.1 2249.8 L1836 2259.5 L1837 2270 L1838 2280 L1839 2289.5 L1840 2298.3 L1841 2306.3 L1842 2313.3 L1843 2319.3 L1844 2324.2 L1844.1 2324.6 L1845 2328.2 L1846 2332 L1847 2335.5 L1848 2338.8 L1849 2342 L1850 2344.9 L1851 2347.6 L1852 2350.2 L1853 2352.6 L1854 2354.8 L1855 2356.8 L1856 2358.7 L1857 2360.5 L1858 2362.1 L1859 2363.6 L1860 2365 L1861 2366.3 L1862 2367.6 L1863 2368.8 L1864 2370 L1865 2371.2 L1866 2372.4 L1867 2373.5 L1868 2374.5 L1869 2375.5 L1870 2376.5 L1871 2377.5 L1872 2378.4 L1873 2379.2 L1874 2380 L1875 2380.8 L1876 2381.5 L1877 2382.2 L1878 2382.8 L1879 2383.4 L1880 2384 L1881 2384.4 L1882 2384.9 L1883 2385.3 L1884 2385.6 L1885 2385.9 L1886 2386.2 L1887 2386.5 L1888 2386.8 L1889 2387 L1890 2387.3 L1891 2387.5 L1892 2387.8 L1893 2388 L1894 2388.3 L1895 2388.5 L1896 2388.7 L1897 2388.9 L1898 2389.1 L1899 2389.3 L1900 2389.5 L1901 2389.7 L1902 2389.8 L1903 2390 L1904 2390.2 L1905 2390.4 L1906 2390.5 L1907 2390.7 L1908 2390.8 L1909 2391 L1910 2391.1 L1911 2391.2 L1912 2391.4 L1913 2391.5 L1914 2391.7 L1915 2391.8 L1916 2391.9 L1917 2392 L1918 2392.2 L1919 2392.3 L1920 2392.4 L1921 2392.5 L1922 2392.6 L1923 2392.8 L1924 2392.9 L1925 2393 L1926 2393.1 L1927 2393.2 L1928 2393.4 L1929 2393.5 L1930 2393.6 L1931 2393.7 L1932 2393.9 L1933 2394 L1934 2394.1 L1935 2394.3 L1936 2394.4 L1937 2394.5 L1938 2394.6 L1939 2394.8 L1940 2394.9 L1941 2395 L1942 2395.1 L1943 2395.3 L1944 2395.4 L1945 2395.5 L1946 2395.6 L1947 2395.7 L1948 2395.8 L1949 2396 L1950 2396.1 L1951 2396.2 L1952 2396.3 L1953 2396.4 L1954 2396.5 L1955 2396.6 L1956 2396.7 L1957 2396.8 L1958 2397 L1959 2397.1 L1960 2397.2 L1961 2397.3 L1962 2397.4 L1963 2397.5 L1964 2397.6 L1965 2397.7 L1966 2397.8 L1967 2397.9 L1968 2397.9 L1969 2398 L1970 2398.1 L1971 2398.2 L1972 2398.3 L1973 2398.4 L1974 2398.5 L1975 2398.6 L1976 2398.7 L1977 2398.8 L1978 2398.8 L1979 2398.9 L1980 2399 L1981 2399.1 L1982 2399.2 L1983 2399.2 L1984 2399.3 L1985 2399.4 L1986 2399.5 L1987 2399.6 L1988 2399.6 L1989 2399.7 L1990 2399.8 L1991 2399.9 L1992 2399.9 L1993 2400 L1994 2400.1 L1995 2400.2 L1996 2400.2 L1997 2400.3 L1998 2400.4 L1999 2400.4 L2000 2400.5 L2001 2400.6 L2002 2400.6 L2003 2400.7 L2004 2400.8 L2005 2400.8 L2006 2400.9 L2007 2401 L2008 2401 L2009 2401.1 L2010 2401.2 L2011 2401.2 L2012 2401.3 L2013 2401.3 L2014 2401.4 L2015 2401.5 L2016 2401.5 L2017 2401.6 L2018 2401.6 L2019 2401.7 L2020 2401.7 L2021 2401.8 L2022 2401.8 L2023 2401.9 L2024 2401.9 L2025 2402 L2025.6 2402" fill="none" stroke="#1b8fd2" stroke-width="3.3" stroke-linejoin="round"/>
<path d="M342.7 2192 L342.7 2367.5 M333.2 2354.5 L342.7 2368.5 L352.2 2354.5" stroke="#000" stroke-width="3.5" fill="none" stroke-linejoin="miter" stroke-linecap="butt"/>
<path d="M631 2169.8 L631 2362.3 M621.5 2349.3 L631 2363.3 L640.5 2349.3" stroke="#000" stroke-width="3.5" fill="none" stroke-linejoin="miter" stroke-linecap="butt"/>
<path d="M1157.8 2115.4 L1157.8 2354 M1148.3 2341 L1157.8 2355 L1167.3 2341" stroke="#000" stroke-width="3.5" fill="none" stroke-linejoin="miter" stroke-linecap="butt"/>
<path d="M1706 2017 L1697.8 1563 M1687.8 1578 L1697.8 1562 L1707.8 1578" stroke="#000" stroke-width="3.5" fill="none"/>
<text x="1604.5" y="1559.3" font-size="45.5" text-anchor="start" fill="#000" font-weight="normal" stroke="#000" stroke-width="0.5">Ca</text>
<text x="1781.9" y="1321.4" font-size="45.5" text-anchor="start" fill="#000" font-weight="normal" stroke="#000" stroke-width="0.5">Ca</text>
<path d="M1867 1480 L1809.5 1480 M1822.5 1471 L1808.5 1480 L1822.5 1489" stroke="#1b8fd2" stroke-width="3" fill="none"/>
<text x="1885.4" y="1496.5" font-size="46" text-anchor="start" fill="#1b8fd2" font-weight="normal" stroke="#1b8fd2" stroke-width="0.4">Rapitan</text>
<path d="M1875.5 2127 L1817 2127 M1830 2118 L1816 2127 L1830 2136" stroke="#000" stroke-width="3" fill="none"/>
<text x="1887.7" y="2120.3" font-size="41.1" text-anchor="start" fill="#000" font-weight="normal" stroke="#000" stroke-width="0.5">Basalt for</text>
<text x="1887.7" y="2166.7" font-size="41.1" text-anchor="start" fill="#000" font-weight="normal" stroke="#000" stroke-width="0.5">comparison</text>
<text x="292.5" y="1367" font-size="60.5" text-anchor="start" fill="#1b8fd2" font-weight="normal" stroke="#1b8fd2" stroke-width="0.5">Rapitan</text>
<text x="116" y="1623.3" font-size="45.8" text-anchor="start" fill="#000" font-weight="normal" stroke="#000" stroke-width="0.5">Exhumed vein</text>
<text x="116.5" y="1675.5" font-size="45.8" text-anchor="start" fill="#000" font-weight="normal" stroke="#000" stroke-width="0.5">viewed from</text>
<text x="116" y="1727.1" font-size="45.8" text-anchor="start" fill="#000" font-weight="normal" stroke="#000" stroke-width="0.5">the side</text>

<path d="M402 1666.5 L612 1666.5" stroke="#1a1a1a" stroke-width="3" fill="none"/>
<path d="M600 1658 L614 1666.5 L600 1675" stroke="#1a1a1a" stroke-width="3" fill="none"/>
<text x="717.8" y="1433.1" font-size="45.4" fill="#1b8fd2" stroke="#0a1a28" stroke-width="3" stroke-opacity="0.6" paint-order="stroke">Point</text>
<path d="M763.5 1450 L763.5 1538 M753 1523.5 L763.5 1539.5 L774 1523.5 M742.7 1587.8 L755.5 1587.8 M768.2 1587.8 L781 1587.8 M762 1567.4 L762 1584.4 M762 1594.6 L762 1612.5" stroke="#06121c" stroke-width="6.5" fill="none" opacity="0.45"/>
<path d="M763.5 1450 L763.5 1538" stroke="#1b8fd2" stroke-width="3.6"/>
<path d="M753 1523.5 L763.5 1539.5 L774 1523.5" stroke="#1b8fd2" stroke-width="3.6" fill="none"/>
<path d="M742.7 1587.8 L755.5 1587.8 M768.2 1587.8 L781 1587.8 M762 1567.4 L762 1584.4 M762 1594.6 L762 1612.5" stroke="#1b8fd2" stroke-width="5.5"/>
<rect x="723.5" y="1910" width="116" height="8" fill="#fff" stroke="#111" stroke-width="2.5"/>
<text x="731.7" y="1893.1" font-size="40.3" fill="#fff" stroke="#222" stroke-width="2" stroke-opacity="0.5" paint-order="stroke">1 cm</text>

</g></svg>
</body></html>
